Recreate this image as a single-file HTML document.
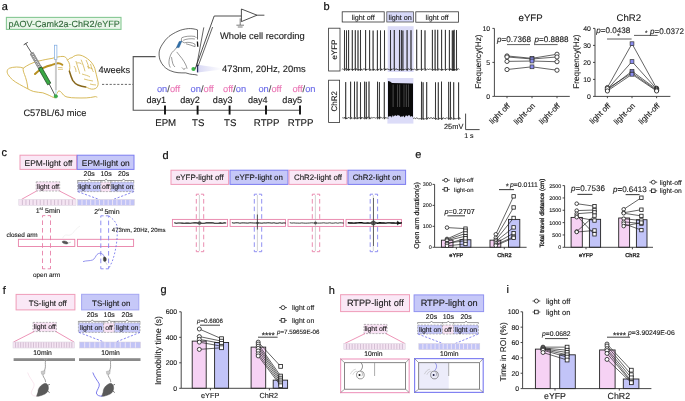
<!DOCTYPE html>
<html><head><meta charset="utf-8"><style>
html,body{margin:0;padding:0;background:#fff;}
svg{display:block;font-family:"Liberation Sans", sans-serif;will-change:transform;}
text{stroke:#1a1a1a;stroke-width:0.12px;text-rendering:geometricPrecision;}
</style></head><body>
<svg width="685" height="401" viewBox="0 0 685 401">
<rect width="685" height="401" fill="#fff"/>
<text x="1.8" y="9.8" font-size="11" fill="#111" stroke="#111" style="stroke-width:0.2px">a</text>
<rect x="6.40" y="17.40" width="114.60" height="12.00" fill="#eaf6ea" stroke="#86c893" stroke-width="1.1" />
<text x="8.60" y="26.60" font-size="9.0" text-anchor="start" fill="#3a8646" stroke="none" >pAOV-Camk2a-ChR2/eYFP</text>
<path d="M23.3,68.1 C20,66.5 13,66.8 9.5,68.2 C6.5,69.5 6.8,72.5 8,74.5 C10,78 14,81.5 19.4,84.3 C22,85.8 25,87.5 27.9,88.9 C27.5,84 26,78 24.5,74.5 C23.5,72 22.8,70 23.3,68.1 Z" fill="none" stroke="#d2b24a" stroke-width="0.9" />
<path d="M23.3,68.1 C27,65.5 32,62.5 38.9,61 C44,59.8 48,59 52,58.4 C56,57.2 60,56.4 63,56.4 C65,56.6 66.5,57.4 67.5,60.3 C69.5,62.5 70.5,66 69.4,71.3" fill="none" stroke="#d2b24a" stroke-width="0.9" />
<path d="M67.5,60.3 C69,58.5 70.5,57.8 72,57.7 C74,55.5 77.5,54.6 80,55.1 C83,55.6 87,58 90.2,61 C92.5,63.5 94,66 94.8,68.5 C96,72 96.6,76.5 97.6,80 C98.6,83 98.4,86 96.5,87.8 C95,89.2 92,89.6 89.5,88.6 C88,88 86.5,87.2 85.6,86.9" fill="none" stroke="#d2b24a" stroke-width="0.9" />
<path d="M75.9,61 C77,65 78.5,69 79.8,73.9 M81.1,59.7 C82.5,63 84,67 85,71.3 M86,60 C87.5,63 88.5,66 89,69 M90.5,64 C91.5,67 92,70 93.5,72 M77,63 C79,62.5 81,63 82,64.5 M82,74 C85,75 88,75.5 90,77 M84,79 C87,80 90,80.5 93,81 M90,84 C92,84.5 94,85 96,85 M74,66 C75.5,68 76,70 76,72 M87,66.5 C89,67.5 91,68 92.5,69" fill="none" stroke="#d2b24a" stroke-width="0.75" />
<path d="M27.9,88.9 C30,90 31.5,91 33.7,91.5 C37,92.2 40,92.5 42.8,92.8 C45,93.5 47,94.5 49.2,95.4 C51,96.3 52.5,97 53.5,97.5 C54.5,98 55.5,97.5 55.8,96.5 C56.5,94 57.5,91.5 59,90.8 C60,91 61,92 61.7,92.7 C62.3,93.5 63,94.5 63.5,95 C64.5,96 65.5,96.6 67,97 C70,97.7 73,97.9 75.9,97.9 C79,98 83,98 86.3,97.9 C89,97.8 92,97.3 95.4,96.6 C96,96.7 96.8,97 97.3,97.2" fill="none" stroke="#d2b24a" stroke-width="0.9" />
<path d="M35,74 C37,72 39.5,70 42.8,68.1 C46,66.5 49,65.5 51.8,64.9 C54,64.2 56,63.5 57.8,63.3 C59.5,63.2 61,63.8 62.3,64.8" fill="none" stroke="#b89020" stroke-width="2.0" stroke-linecap="round"/>
<path d="M57.8,67.6 L62.5,67.4 M58,69.4 L63,69.2" fill="none" stroke="#d2b24a" stroke-width="0.7" />
<path d="M69.4,71.3 C70.5,75 71.5,78 72.7,80.4 C74.5,83 76,84.5 77.9,85 C80.5,86 83,86.6 85.6,86.9" fill="none" stroke="#86661a" stroke-width="1.5" stroke-linecap="round"/>
<line x1="25.70" y1="43.60" x2="31.70" y2="53.20" stroke="#333" stroke-width="0.8" />
<line x1="49.20" y1="84.00" x2="55.40" y2="96.00" stroke="#333" stroke-width="0.8" />
<line x1="23.70" y1="44.80" x2="27.70" y2="42.40" stroke="#333" stroke-width="0.9" />
<g transform="translate(31.7,53.2) rotate(60.4)"><rect x="0" y="-1.7" width="16.8" height="3.4" fill="#fff" stroke="#666" stroke-width="0.5"/><line x1="0.0" y1="-1.7" x2="1.6" y2="1.7" stroke="#333" stroke-width="0.4"/><line x1="1.6" y1="-1.7" x2="0.0" y2="1.7" stroke="#333" stroke-width="0.4"/><line x1="1.9" y1="-1.7" x2="3.5" y2="1.7" stroke="#333" stroke-width="0.4"/><line x1="3.5" y1="-1.7" x2="1.9" y2="1.7" stroke="#333" stroke-width="0.4"/><line x1="3.8" y1="-1.7" x2="5.4" y2="1.7" stroke="#333" stroke-width="0.4"/><line x1="5.4" y1="-1.7" x2="3.8" y2="1.7" stroke="#333" stroke-width="0.4"/><line x1="5.7" y1="-1.7" x2="7.3" y2="1.7" stroke="#333" stroke-width="0.4"/><line x1="7.3" y1="-1.7" x2="5.7" y2="1.7" stroke="#333" stroke-width="0.4"/><line x1="7.6" y1="-1.7" x2="9.2" y2="1.7" stroke="#333" stroke-width="0.4"/><line x1="9.2" y1="-1.7" x2="7.6" y2="1.7" stroke="#333" stroke-width="0.4"/><line x1="9.5" y1="-1.7" x2="11.1" y2="1.7" stroke="#333" stroke-width="0.4"/><line x1="11.1" y1="-1.7" x2="9.5" y2="1.7" stroke="#333" stroke-width="0.4"/><line x1="11.4" y1="-1.7" x2="13.0" y2="1.7" stroke="#333" stroke-width="0.4"/><line x1="13.0" y1="-1.7" x2="11.4" y2="1.7" stroke="#333" stroke-width="0.4"/><line x1="13.3" y1="-1.7" x2="14.9" y2="1.7" stroke="#333" stroke-width="0.4"/><line x1="14.9" y1="-1.7" x2="13.3" y2="1.7" stroke="#333" stroke-width="0.4"/><line x1="15.2" y1="-1.7" x2="16.8" y2="1.7" stroke="#333" stroke-width="0.4"/><line x1="16.8" y1="-1.7" x2="15.2" y2="1.7" stroke="#333" stroke-width="0.4"/><rect x="16.8" y="-1.8" width="18.6" height="3.6" fill="#3aa844" stroke="#1c4a20" stroke-width="0.7"/></g>
<rect x="54.40" y="45.20" width="2.50" height="14.40" fill="#fff" stroke="#7aa8e0" stroke-width="0.7" />
<rect x="55.10" y="59.60" width="1.60" height="30.60" fill="#cfcfcf" stroke="#b4b4b4" stroke-width="0.3" />
<rect x="55.10" y="90.20" width="1.60" height="4.60" fill="#cdeaf6" stroke="none" stroke-width="1" />
<circle cx="55.80" cy="96.30" r="1.8" fill="#38b048" stroke="#2a8a36" stroke-width="0.4"/>
<text x="98.60" y="72.60" font-size="9.3" text-anchor="start" fill="#1a1a1a" stroke="#1a1a1a" >4weeks</text>
<text x="23.40" y="116.20" font-size="9.3" text-anchor="start" fill="#1a1a1a" stroke="#1a1a1a" >C57BL/6J mice</text>
<line x1="102.00" y1="84.40" x2="133.00" y2="84.40" stroke="#444" stroke-width="0.8" stroke-dasharray="2.2,1.6"/>
<path d="M155.6,56.6 H133.2 V110.2 H300" fill="none" stroke="#555" stroke-width="1.1" />
<path d="M197.5,29.9 C194.5,28.9 191.5,28.4 188.4,28.6 C184.5,29 181,29.8 178,31.2 C174.5,32.8 171.5,34.5 169,36.4 C166.5,38.6 164.2,41.2 162.5,44.1 C160.6,47 159.5,49.5 159.2,51.9 C158.9,54.6 159.2,57.2 159.9,59.7 C160.8,62.2 162.2,64.4 163.8,66.2 C165.8,68.3 168,69.7 170.3,70.7 C172.8,71.8 175.3,72.4 178,72.7 C180.6,72.9 183.2,72.9 185.8,72.9 C187.2,73.3 188.4,73.7 189.7,74 C191.5,74.4 193.2,74.6 194.9,74.6 C195.8,74.8 196.6,75 197.5,75.2" fill="none" stroke="#222" stroke-width="0.7" />
<line x1="197.50" y1="29.90" x2="197.50" y2="39.50" stroke="#222" stroke-width="0.7" />
<line x1="197.40" y1="41.50" x2="197.80" y2="46.80" stroke="#111" stroke-width="1.3" />
<path d="M181.9,37.7 C185,36.2 190,35.8 194.9,36.4 M183.2,40.3 C186.5,38.8 191,38.4 194.9,39 M184.5,42.8 C188,41.8 192,42.5 194.9,44.1 M181.9,37.7 C181,39 181.2,41 182.5,42 L184.5,42.8 M194.9,36.4 L196.5,38 M194.9,44.1 L195.2,46.7 M186,43.8 C189,44.5 192,45.5 194.9,46.7" fill="none" stroke="#333" stroke-width="0.5" />
<path d="M175.4,49.3 C172.5,51.5 171,53.5 170.3,55.8 C169.3,58.5 168.8,61 169,63.6 C169.2,65 169.6,66.3 170.3,67.5 M176.7,51.9 C178.5,54 180,56.2 181.9,58.4 C183.3,60.5 184.8,62.6 185.8,64.9 C186.4,66.2 186.8,67.5 187.1,68.8 M171.5,57.1 C171.8,59.3 172.2,61.5 172.8,63.6 C173.4,65.2 174,66.2 175,67 M181.9,67.5 C182.5,68.3 183.2,69 183.9,69.4 C184.8,69 185.4,68.4 185.8,67.8 M178,46 C177,47 176,48 175.4,49.3" fill="none" stroke="#333" stroke-width="0.5" />
<path d="M176.4,47.6 L179.2,41.5 L181.9,41.1 L179.1,47.6 Z" fill="#2f6fa8" stroke="#24568a" stroke-width="0.4" />
<defs><linearGradient id="cone" x1="0" x2="1" y1="0" y2="0"><stop offset="0" stop-color="#d8d8f4"/><stop offset="1" stop-color="#ffffff"/></linearGradient></defs>
<path d="M197.6,64.8 L222,68.2 L222,69.6 L197.6,72.4 Z" fill="url(#cone)" stroke="none" stroke-width="1" />
<rect x="196.90" y="64.80" width="1.30" height="7.60" fill="#2a2a60" stroke="none" stroke-width="1" />
<circle cx="193.50" cy="69.00" r="2.1" fill="#3cb54a" stroke="none" stroke-width="0"/>
<line x1="195.20" y1="68.80" x2="214.20" y2="16.00" stroke="#222" stroke-width="0.8" />
<line x1="196.50" y1="66.50" x2="203.80" y2="27.40" stroke="#222" stroke-width="0.7" />
<line x1="198.20" y1="66.00" x2="212.60" y2="27.00" stroke="#222" stroke-width="0.7" />
<line x1="214.20" y1="16.00" x2="241.40" y2="16.00" stroke="#222" stroke-width="0.8" />
<path d="M241.4,9 L257,15.2 L241.4,21.6 Z" fill="#fff" stroke="#222" stroke-width="0.8" />
<line x1="257.00" y1="15.20" x2="264.40" y2="15.20" stroke="#222" stroke-width="0.8" />
<line x1="240.20" y1="18.40" x2="240.20" y2="25.00" stroke="#444" stroke-width="0.7" />
<line x1="236.40" y1="25.20" x2="244.00" y2="25.20" stroke="#444" stroke-width="0.7" />
<line x1="237.80" y1="27.00" x2="242.60" y2="27.00" stroke="#444" stroke-width="0.7" />
<text x="220.00" y="39.00" font-size="9.35" text-anchor="start" fill="#1a1a1a" stroke="#1a1a1a" >Whole cell recording</text>
<text x="222.00" y="71.60" font-size="9.35" text-anchor="start" fill="#1a1a1a" stroke="#1a1a1a" >473nm, 20Hz, 20ms</text>
<line x1="165.00" y1="105.60" x2="165.00" y2="114.60" stroke="#111" stroke-width="1.9" />
<text x="156.30" y="103.30" font-size="9.1" text-anchor="middle" fill="#1a1a1a" stroke="#1a1a1a" >day1</text>
<text x="165.70" y="125.70" font-size="9.7" text-anchor="middle" fill="#1a1a1a" stroke="#1a1a1a" >EPM</text>
<text x="168.50" y="91.80" font-size="9.3" text-anchor="middle" fill="#1a1a1a" stroke="#1a1a1a" ><tspan fill="#6a6ae8" stroke="#6a6ae8">on</tspan><tspan fill="#444" stroke="#444">/</tspan><tspan fill="#ea74b4" stroke="#ea74b4">off</tspan></text>
<line x1="197.60" y1="105.60" x2="197.60" y2="114.60" stroke="#111" stroke-width="1.9" />
<text x="190.00" y="103.30" font-size="9.1" text-anchor="middle" fill="#1a1a1a" stroke="#1a1a1a" >day2</text>
<text x="198.30" y="125.70" font-size="9.7" text-anchor="middle" fill="#1a1a1a" stroke="#1a1a1a" >TS</text>
<text x="202.10" y="91.80" font-size="9.3" text-anchor="middle" fill="#1a1a1a" stroke="#1a1a1a" ><tspan fill="#6a6ae8" stroke="#6a6ae8">on</tspan><tspan fill="#444" stroke="#444">/</tspan><tspan fill="#ea74b4" stroke="#ea74b4">off</tspan></text>
<line x1="229.60" y1="105.60" x2="229.60" y2="114.60" stroke="#111" stroke-width="1.9" />
<text x="222.70" y="103.30" font-size="9.1" text-anchor="middle" fill="#1a1a1a" stroke="#1a1a1a" >day3</text>
<text x="230.30" y="125.70" font-size="9.7" text-anchor="middle" fill="#1a1a1a" stroke="#1a1a1a" >TS</text>
<text x="234.60" y="91.80" font-size="9.3" text-anchor="middle" fill="#1a1a1a" stroke="#1a1a1a" ><tspan fill="#ea74b4" stroke="#ea74b4">off</tspan><tspan fill="#444" stroke="#444">/</tspan><tspan fill="#6a6ae8" stroke="#6a6ae8">on</tspan></text>
<line x1="266.00" y1="105.60" x2="266.00" y2="114.60" stroke="#111" stroke-width="1.9" />
<text x="257.80" y="103.30" font-size="9.1" text-anchor="middle" fill="#1a1a1a" stroke="#1a1a1a" >day4</text>
<text x="266.70" y="125.70" font-size="9.7" text-anchor="middle" fill="#1a1a1a" stroke="#1a1a1a" >RTPP</text>
<text x="270.00" y="91.80" font-size="9.3" text-anchor="middle" fill="#1a1a1a" stroke="#1a1a1a" ><tspan fill="#6a6ae8" stroke="#6a6ae8">on</tspan><tspan fill="#444" stroke="#444">/</tspan><tspan fill="#ea74b4" stroke="#ea74b4">off</tspan></text>
<line x1="300.00" y1="105.60" x2="300.00" y2="114.60" stroke="#111" stroke-width="1.9" />
<text x="292.20" y="103.30" font-size="9.1" text-anchor="middle" fill="#1a1a1a" stroke="#1a1a1a" >day5</text>
<text x="300.70" y="125.70" font-size="9.7" text-anchor="middle" fill="#1a1a1a" stroke="#1a1a1a" >RTPP</text>
<text x="304.00" y="91.80" font-size="9.3" text-anchor="middle" fill="#1a1a1a" stroke="#1a1a1a" ><tspan fill="#ea74b4" stroke="#ea74b4">off</tspan><tspan fill="#444" stroke="#444">/</tspan><tspan fill="#6a6ae8" stroke="#6a6ae8">on</tspan></text>
<text x="323.6" y="10.4" font-size="11" fill="#111" stroke="#111" style="stroke-width:0.2px">b</text>
<rect x="342.20" y="11.80" width="42.00" height="10.20" fill="#fff" stroke="#333" stroke-width="0.8" />
<rect x="386.80" y="11.80" width="26.80" height="10.20" fill="#d6d8f8" stroke="#555" stroke-width="0.8" />
<rect x="415.80" y="11.80" width="42.60" height="10.40" fill="#fff" stroke="#333" stroke-width="0.8" />
<text x="363.20" y="19.60" font-size="7.2" text-anchor="middle" fill="#1a1a1a" stroke="#1a1a1a" >light off</text>
<text x="400.20" y="19.60" font-size="7.2" text-anchor="middle" fill="#1a1a1a" stroke="#1a1a1a" >light on</text>
<text x="437.10" y="19.60" font-size="7.2" text-anchor="middle" fill="#1a1a1a" stroke="#1a1a1a" >light off</text>
<rect x="387.70" y="26.20" width="25.90" height="45.80" fill="#dcdcf8" stroke="none" stroke-width="1" />
<rect x="387.40" y="78.00" width="26.00" height="45.60" fill="#dcdcf8" stroke="none" stroke-width="1" />
<rect x="328.60" y="28.20" width="11.40" height="42.80" fill="#fff" stroke="#333" stroke-width="0.8" />
<rect x="328.60" y="80.20" width="11.00" height="42.20" fill="#fff" stroke="#333" stroke-width="0.8" />
<text transform="translate(337.2,49.6) rotate(-90)" font-size="8" text-anchor="middle" fill="#1a1a1a">eYFP</text>
<text transform="translate(337.0,101.3) rotate(-90)" font-size="8" text-anchor="middle" fill="#1a1a1a">ChR2</text>
<path d="M341.80,69.40 L342.50,68.98 L343.20,69.47 L343.90,69.19 L344.42,68.50 L344.50,30.20 L344.58,70.70 L345.40,69.20 L344.60,69.60 L345.30,68.70 L346.00,68.62 L346.42,68.50 L346.50,30.44 L346.58,70.70 L347.40,69.20 L346.70,69.01 L347.40,68.97 L348.10,70.19 L348.52,68.50 L348.60,30.07 L348.68,70.70 L349.50,69.20 L348.80,69.94 L349.50,69.36 L350.20,69.62 L350.90,68.84 L351.60,69.62 L352.30,69.99 L352.22,68.50 L352.30,30.12 L352.38,70.70 L353.20,69.20 L353.00,69.79 L353.70,69.67 L354.40,68.70 L355.10,69.81 L355.22,68.50 L355.30,30.19 L355.38,70.70 L356.20,69.20 L355.80,69.08 L356.50,68.65 L357.20,69.98 L357.90,69.36 L357.92,68.50 L358.00,30.32 L358.08,70.70 L358.90,69.20 L358.60,70.01 L359.30,69.74 L360.00,70.07 L360.42,68.50 L360.50,29.99 L360.58,70.70 L361.40,69.20 L360.70,69.88 L361.40,69.31 L362.10,70.10 L362.80,70.01 L363.50,68.76 L364.20,68.82 L364.90,68.95 L365.60,70.14 L365.52,68.50 L365.60,30.04 L365.68,70.70 L366.50,69.20 L366.30,69.60 L367.00,69.08 L367.70,69.41 L368.40,69.22 L369.10,69.16 L369.52,68.50 L369.60,30.19 L369.68,70.70 L370.50,69.20 L369.80,69.53 L370.50,70.05 L371.20,69.69 L371.90,70.09 L372.60,69.97 L373.02,68.50 L373.10,30.59 L373.18,70.70 L374.00,69.20 L373.30,69.67 L374.00,68.86 L374.70,69.98 L375.40,70.14 L376.10,70.05 L376.80,69.51 L377.32,68.50 L377.40,30.31 L377.48,70.70 L378.30,69.20 L377.50,68.94 L378.20,69.93 L378.90,69.52 L379.60,69.06 L380.30,68.70 L380.42,68.50 L380.50,30.45 L380.58,70.70 L381.40,69.20 L381.00,70.18 L381.70,68.74 L382.40,69.88 L383.10,69.26 L383.80,68.84 L384.50,69.07 L384.42,68.50 L384.50,30.37 L384.58,70.70 L385.40,69.20 L385.20,70.00 L385.90,68.67 L386.60,69.58 L387.30,68.67 L388.00,69.75 L388.70,69.13 L389.40,70.01 L390.10,70.17 L390.42,68.50 L390.50,30.11 L390.58,70.70 L391.40,69.20 L390.80,70.20 L391.50,69.10 L392.20,68.72 L392.90,69.56 L393.60,68.65 L394.30,68.92 L394.22,68.50 L394.30,30.01 L394.38,70.70 L395.20,69.20 L395.00,69.58 L395.70,68.85 L396.40,68.67 L397.10,69.99 L397.80,69.10 L398.50,70.13 L399.20,70.03 L399.42,68.50 L399.50,29.98 L399.58,70.70 L400.40,69.20 L399.90,69.34 L400.60,69.43 L401.30,69.63 L401.32,68.50 L401.40,30.20 L401.48,70.70 L402.30,69.20 L402.00,69.49 L402.70,69.59 L402.82,68.50 L402.90,30.54 L402.98,70.70 L403.80,69.20 L403.40,69.41 L404.10,69.29 L404.80,69.75 L405.50,68.98 L406.20,69.08 L406.90,70.16 L407.02,68.50 L407.10,30.12 L407.18,70.70 L408.00,69.20 L407.60,69.48 L408.30,68.62 L409.00,69.26 L409.70,69.53 L410.40,68.63 L410.92,68.50 L411.00,30.22 L411.08,70.70 L411.90,69.20 L411.10,69.61 L411.80,68.70 L412.50,69.60 L413.20,69.35 L413.90,69.69 L414.60,69.16 L415.30,69.73 L416.00,69.78 L416.70,68.64 L416.62,68.50 L416.70,29.66 L416.78,70.70 L417.60,69.20 L417.40,69.68 L418.10,70.14 L418.80,69.00 L419.50,69.33 L420.20,69.55 L420.90,69.11 L421.32,68.50 L421.40,29.96 L421.48,70.70 L422.30,69.20 L421.60,69.10 L422.30,69.19 L423.00,69.55 L423.70,69.08 L424.40,69.20 L424.92,68.50 L425.00,30.37 L425.08,70.70 L425.90,69.20 L425.10,68.64 L425.80,69.51 L426.50,69.78 L427.20,69.10 L427.90,68.96 L428.60,69.89 L429.30,68.98 L430.00,68.90 L430.70,69.30 L431.40,69.72 L432.10,68.76 L432.32,68.50 L432.40,29.92 L432.48,70.70 L433.30,69.20 L432.80,69.13 L433.50,69.93 L434.20,69.30 L434.90,69.97 L435.02,68.50 L435.10,29.77 L435.18,70.70 L436.00,69.20 L435.60,69.14 L436.30,69.64 L437.00,70.02 L437.70,69.32 L437.62,68.50 L437.70,29.83 L437.78,70.70 L438.60,69.20 L438.40,68.79 L439.10,69.45 L439.80,68.91 L440.50,69.89 L441.20,69.94 L441.52,68.50 L441.60,29.78 L441.68,70.70 L442.50,69.20 L441.90,69.05 L442.60,69.89 L443.30,69.63 L444.00,69.89 L444.70,69.15 L445.40,68.81 L445.32,68.50 L445.40,29.89 L445.48,70.70 L446.30,69.20 L446.10,69.87 L446.80,69.03 L447.50,69.15 L448.20,69.27 L448.90,69.27 L449.32,68.50 L449.40,30.01 L449.48,70.70 L450.30,69.20 L449.60,70.07 L450.30,68.85 L451.00,68.61 L451.70,70.11 L452.22,68.50 L452.30,30.48 L452.38,70.70 L453.20,69.20 L452.40,70.18 L453.10,69.29 L453.22,68.50 L453.30,30.55 L453.38,70.70 L454.20,69.20 L453.80,70.08 L454.12,68.50 L454.20,29.82 L454.28,70.70 L455.10,69.20 L454.50,69.79 L455.20,69.94 L455.90,69.66 L456.42,68.50 L456.50,30.12 L456.58,70.70 L457.40,69.20 L456.60,69.06 L457.30,69.15 L458.00,68.96 L458.70,68.71 L459.40,69.54" fill="none" stroke="#111" stroke-width="0.62" stroke-linejoin="round"/>
<path d="M342.40,117.90 L343.10,117.56 L343.80,118.40 L344.50,117.17 L345.20,118.55 L345.62,117.00 L345.70,82.09 L345.78,119.20 L346.60,117.70 L345.90,118.58 L346.60,118.53 L347.30,118.54 L348.00,118.02 L348.70,117.12 L349.40,118.29 L350.10,117.37 L350.52,117.00 L350.60,81.70 L350.68,119.20 L351.50,117.70 L350.80,118.16 L351.50,117.94 L352.20,117.76 L352.90,118.60 L353.60,118.08 L354.30,117.65 L354.42,117.00 L354.50,81.65 L354.58,119.20 L355.40,117.70 L355.00,118.48 L355.70,117.86 L356.40,118.35 L357.10,117.66 L357.02,117.00 L357.10,81.60 L357.18,119.20 L358.00,117.70 L357.80,117.96 L358.50,118.41 L359.20,117.37 L359.90,118.37 L360.42,117.00 L360.50,82.32 L360.58,119.20 L361.40,117.70 L360.60,118.39 L361.30,118.42 L362.00,117.11 L362.70,118.11 L363.40,118.48 L364.10,117.18 L364.52,117.00 L364.60,81.67 L364.68,119.20 L365.50,117.70 L364.80,117.53 L365.50,117.94 L366.20,117.78 L366.22,117.00 L366.30,81.87 L366.38,119.20 L367.20,117.70 L366.90,118.34 L367.60,117.10 L368.30,117.19 L369.00,117.30 L368.92,117.00 L369.00,81.52 L369.08,119.20 L369.90,117.70 L369.70,117.21 L370.40,118.66 L371.10,118.47 L371.80,117.24 L372.50,117.90 L373.20,117.61 L373.90,117.60 L374.60,117.66 L375.30,118.14 L376.00,118.04 L376.70,117.68 L377.40,117.41 L377.42,117.00 L377.50,81.73 L377.58,119.20 L378.40,117.70 L378.10,117.30 L378.80,117.99 L379.32,117.00 L379.40,82.12 L379.48,119.20 L380.30,117.70 L379.50,117.71 L380.20,117.23 L380.90,117.39 L381.60,117.70 L382.30,118.07 L383.00,118.35 L383.70,117.71 L384.22,117.00 L384.30,82.20 L384.38,119.20 L385.20,117.70 L384.40,118.10 L385.10,117.79 L385.80,117.70 L386.50,117.89 L387.20,118.22 L387.90,117.77 L388.60,118.21" fill="none" stroke="#111" stroke-width="0.62" stroke-linejoin="round"/>
<path d="M413.00,118.40 L413.70,118.34 L414.40,117.99 L415.10,118.46 L415.80,118.71 L416.50,117.71 L417.20,118.28 L417.90,118.28 L418.60,119.01 L419.30,119.10 L420.00,118.20 L420.70,119.04 L421.40,118.87 L421.42,117.50 L421.50,81.76 L421.58,119.70 L422.40,118.20 L422.10,118.34 L422.80,117.80 L423.02,117.50 L423.10,82.31 L423.18,119.70 L424.00,118.20 L423.50,118.66 L424.20,119.02 L424.90,118.87 L425.60,118.67 L426.30,118.77 L426.62,117.50 L426.70,82.06 L426.78,119.70 L427.60,118.20 L427.00,117.77 L427.70,118.54 L428.40,117.61 L429.10,117.83 L429.80,118.84 L430.50,117.67 L431.20,117.75 L431.90,117.76 L432.60,119.01 L433.30,117.89 L434.00,117.64 L434.70,118.95 L435.40,117.79 L435.42,117.50 L435.50,82.34 L435.58,119.70 L436.40,118.20 L436.10,118.68 L436.80,118.94 L437.50,119.12 L438.20,118.53 L438.22,117.50 L438.30,82.30 L438.38,119.70 L439.20,118.20 L438.90,117.66 L439.60,118.83 L440.30,118.42 L441.00,118.74 L441.42,117.50 L441.50,81.61 L441.58,119.70 L442.40,118.20 L441.70,118.80 L442.40,119.10 L443.10,117.70 L443.80,118.12 L444.50,118.50 L445.20,118.92 L445.90,117.99 L446.60,117.89 L447.30,118.00 L448.00,118.59 L448.70,118.81 L448.62,117.50 L448.70,81.89 L448.78,119.70 L449.60,118.20 L449.40,118.19 L450.10,118.23 L450.42,117.50 L450.50,81.85 L450.58,119.70 L451.40,118.20 L450.80,118.27 L451.50,117.73 L452.20,118.40 L452.90,119.16 L453.60,118.26 L453.62,117.50 L453.70,82.25 L453.78,119.70 L454.60,118.20 L454.30,117.86 L455.00,118.71 L455.70,118.81 L456.40,118.68 L457.10,118.43 L457.80,118.37 L458.50,118.63 L458.52,117.50 L458.60,82.40 L458.68,119.70 L459.50,118.20 L459.20,117.84 L459.90,117.75 L460.60,118.80" fill="none" stroke="#111" stroke-width="0.62" stroke-linejoin="round"/>
<path d="M388,81.0 L390,81.6 L392,83.0 L413,83.6 L413,116 L413.0,117.4 L412.2,116.3 L411.4,116.0 L410.6,116.9 L409.8,115.3 L409.0,115.5 L408.2,115.3 L407.4,116.5 L406.6,115.6 L405.8,115.4 L405.0,116.8 L404.2,117.6 L403.4,115.6 L402.6,116.8 L401.8,115.9 L401.0,117.3 L400.2,116.5 L399.4,115.5 L398.6,115.4 L397.8,114.8 L397.0,116.1 L396.2,115.8 L395.4,115.2 L394.6,115.8 L393.8,115.7 L393.0,117.0 L392.2,115.1 L391.4,117.7 L390.6,116.1 L389.8,116.5 L389.0,116.1 L388.2,117.2 L388,117 Z" fill="#0a0a0a" stroke="none" stroke-width="0" />
<line x1="393.10" y1="84.50" x2="393.10" y2="107.00" stroke="#777" stroke-width="0.6" />
<line x1="397.50" y1="84.50" x2="397.50" y2="107.00" stroke="#666" stroke-width="0.6" />
<line x1="399.70" y1="84.50" x2="399.70" y2="107.00" stroke="#777" stroke-width="0.6" />
<line x1="404.00" y1="84.50" x2="404.00" y2="107.00" stroke="#666" stroke-width="0.6" />
<line x1="406.30" y1="84.50" x2="406.30" y2="107.00" stroke="#777" stroke-width="0.6" />
<line x1="408.50" y1="84.50" x2="408.50" y2="107.00" stroke="#666" stroke-width="0.6" />
<path d="M465.6,113.6 V129.6 H479.6" fill="none" stroke="#333" stroke-width="0.9" />
<text x="444.00" y="128.60" font-size="7.4" text-anchor="start" fill="#1a1a1a" stroke="#1a1a1a" >25mV</text>
<text x="464.20" y="137.80" font-size="7.0" text-anchor="start" fill="#1a1a1a" stroke="#1a1a1a" >1 s</text>
<line x1="494.40" y1="28.40" x2="494.40" y2="96.40" stroke="#333" stroke-width="0.9" />
<line x1="494.40" y1="96.40" x2="569.80" y2="96.40" stroke="#333" stroke-width="0.9" />
<line x1="492.40" y1="96.40" x2="494.40" y2="96.40" stroke="#333" stroke-width="0.9" />
<text x="490.20" y="98.90" font-size="6.9" text-anchor="end" fill="#1a1a1a" stroke="#1a1a1a" >0</text>
<line x1="492.40" y1="62.40" x2="494.40" y2="62.40" stroke="#333" stroke-width="0.9" />
<text x="490.20" y="64.90" font-size="6.9" text-anchor="end" fill="#1a1a1a" stroke="#1a1a1a" >5</text>
<line x1="492.40" y1="28.40" x2="494.40" y2="28.40" stroke="#333" stroke-width="0.9" />
<text x="490.20" y="30.90" font-size="6.9" text-anchor="end" fill="#1a1a1a" stroke="#1a1a1a" >10</text>
<line x1="507.00" y1="96.40" x2="507.00" y2="98.20" stroke="#333" stroke-width="0.9" />
<line x1="532.00" y1="96.40" x2="532.00" y2="98.20" stroke="#333" stroke-width="0.9" />
<line x1="557.00" y1="96.40" x2="557.00" y2="98.20" stroke="#333" stroke-width="0.9" />
<text transform="translate(510.60,106.40) rotate(-45)" font-size="8.0" text-anchor="end" fill="#1a1a1a">light off</text>
<text transform="translate(535.60,106.40) rotate(-45)" font-size="8.0" text-anchor="end" fill="#1a1a1a">light-on</text>
<text transform="translate(560.60,106.40) rotate(-45)" font-size="8.0" text-anchor="end" fill="#1a1a1a">light-off</text>
<text x="530.60" y="21.00" font-size="9.6" text-anchor="middle" fill="#1a1a1a" stroke="#1a1a1a" >eYFP</text>
<text transform="translate(481.0,61.6) rotate(-90)" font-size="8.2" text-anchor="middle" fill="#1a1a1a">Frequency(Hz)</text>
<path d="M507,55.94 L532,58.32 L557,54.24" fill="none" stroke="#222" stroke-width="0.7" />
<path d="M507,56.96 L532,59.00 L557,56.96" fill="none" stroke="#222" stroke-width="0.7" />
<path d="M507,61.38 L532,61.04 L557,61.72" fill="none" stroke="#222" stroke-width="0.7" />
<path d="M507,69.54 L532,66.82 L557,70.22" fill="none" stroke="#222" stroke-width="0.7" />
<circle cx="507.00" cy="55.94" r="2.1" fill="#fff" stroke="#1a1a1a" stroke-width="0.8"/>
<circle cx="557.00" cy="54.24" r="2.1" fill="#fff" stroke="#1a1a1a" stroke-width="0.8"/>
<circle cx="507.00" cy="56.96" r="2.1" fill="#fff" stroke="#1a1a1a" stroke-width="0.8"/>
<circle cx="557.00" cy="56.96" r="2.1" fill="#fff" stroke="#1a1a1a" stroke-width="0.8"/>
<circle cx="507.00" cy="61.38" r="2.1" fill="#fff" stroke="#1a1a1a" stroke-width="0.8"/>
<circle cx="557.00" cy="61.72" r="2.1" fill="#fff" stroke="#1a1a1a" stroke-width="0.8"/>
<circle cx="507.00" cy="69.54" r="2.1" fill="#fff" stroke="#1a1a1a" stroke-width="0.8"/>
<circle cx="557.00" cy="70.22" r="2.1" fill="#fff" stroke="#1a1a1a" stroke-width="0.8"/>
<rect x="530.10" y="56.42" width="3.80" height="3.80" fill="#8a8cf0" stroke="#333" stroke-width="0.7" />
<rect x="530.10" y="57.10" width="3.80" height="3.80" fill="#8a8cf0" stroke="#333" stroke-width="0.7" />
<rect x="530.10" y="59.14" width="3.80" height="3.80" fill="#8a8cf0" stroke="#333" stroke-width="0.7" />
<rect x="530.10" y="64.92" width="3.80" height="3.80" fill="#8a8cf0" stroke="#333" stroke-width="0.7" />
<text x="497.00" y="42.00" font-size="8.1" text-anchor="start" fill="#1a1a1a" stroke="#1a1a1a" ><tspan font-style="italic">p</tspan>=0.7368</text>
<text x="534.40" y="42.00" font-size="8.1" text-anchor="start" fill="#1a1a1a" stroke="#1a1a1a" ><tspan font-style="italic">p</tspan>=0.8888</text>
<line x1="507.00" y1="44.60" x2="530.00" y2="44.60" stroke="#333" stroke-width="0.8" />
<line x1="534.00" y1="44.60" x2="557.60" y2="44.60" stroke="#333" stroke-width="0.8" />
<line x1="595.00" y1="28.40" x2="595.00" y2="96.40" stroke="#333" stroke-width="0.9" />
<line x1="595.00" y1="96.40" x2="670.40" y2="96.40" stroke="#333" stroke-width="0.9" />
<line x1="593.00" y1="96.40" x2="595.00" y2="96.40" stroke="#333" stroke-width="0.9" />
<text x="590.80" y="98.90" font-size="6.9" text-anchor="end" fill="#1a1a1a" stroke="#1a1a1a" >0</text>
<line x1="593.00" y1="79.40" x2="595.00" y2="79.40" stroke="#333" stroke-width="0.9" />
<text x="590.80" y="81.90" font-size="6.9" text-anchor="end" fill="#1a1a1a" stroke="#1a1a1a" >10</text>
<line x1="593.00" y1="62.40" x2="595.00" y2="62.40" stroke="#333" stroke-width="0.9" />
<text x="590.80" y="64.90" font-size="6.9" text-anchor="end" fill="#1a1a1a" stroke="#1a1a1a" >20</text>
<line x1="593.00" y1="45.40" x2="595.00" y2="45.40" stroke="#333" stroke-width="0.9" />
<text x="590.80" y="47.90" font-size="6.9" text-anchor="end" fill="#1a1a1a" stroke="#1a1a1a" >30</text>
<line x1="593.00" y1="28.40" x2="595.00" y2="28.40" stroke="#333" stroke-width="0.9" />
<text x="590.80" y="30.90" font-size="6.9" text-anchor="end" fill="#1a1a1a" stroke="#1a1a1a" >40</text>
<line x1="607.40" y1="96.40" x2="607.40" y2="98.20" stroke="#333" stroke-width="0.9" />
<line x1="632.00" y1="96.40" x2="632.00" y2="98.20" stroke="#333" stroke-width="0.9" />
<line x1="656.60" y1="96.40" x2="656.60" y2="98.20" stroke="#333" stroke-width="0.9" />
<text transform="translate(611.00,106.40) rotate(-45)" font-size="8.0" text-anchor="end" fill="#1a1a1a">light off</text>
<text transform="translate(635.60,106.40) rotate(-45)" font-size="8.0" text-anchor="end" fill="#1a1a1a">light-on</text>
<text transform="translate(660.20,106.40) rotate(-45)" font-size="8.0" text-anchor="end" fill="#1a1a1a">light-off</text>
<text x="628.80" y="21.00" font-size="9.6" text-anchor="middle" fill="#1a1a1a" stroke="#1a1a1a" >ChR2</text>
<text transform="translate(578.6,61.6) rotate(-90)" font-size="8.2" text-anchor="middle" fill="#1a1a1a">Frequency(Hz)</text>
<path d="M607.4,87.56 L632,43.70 L656.6,88.24" fill="none" stroke="#222" stroke-width="0.7" />
<path d="M607.4,89.26 L632,61.55 L656.6,88.92" fill="none" stroke="#222" stroke-width="0.7" />
<path d="M607.4,89.94 L632,71.24 L656.6,89.26" fill="none" stroke="#222" stroke-width="0.7" />
<path d="M607.4,88.58 L632,72.94 L656.6,90.28" fill="none" stroke="#222" stroke-width="0.7" />
<path d="M607.4,90.96 L632,74.30 L656.6,90.96" fill="none" stroke="#222" stroke-width="0.7" />
<circle cx="607.40" cy="87.56" r="2.1" fill="#fff" stroke="#1a1a1a" stroke-width="0.8"/>
<circle cx="656.60" cy="88.24" r="2.1" fill="#fff" stroke="#1a1a1a" stroke-width="0.8"/>
<circle cx="607.40" cy="89.26" r="2.1" fill="#fff" stroke="#1a1a1a" stroke-width="0.8"/>
<circle cx="656.60" cy="88.92" r="2.1" fill="#fff" stroke="#1a1a1a" stroke-width="0.8"/>
<circle cx="607.40" cy="89.94" r="2.1" fill="#fff" stroke="#1a1a1a" stroke-width="0.8"/>
<circle cx="656.60" cy="89.26" r="2.1" fill="#fff" stroke="#1a1a1a" stroke-width="0.8"/>
<circle cx="607.40" cy="88.58" r="2.1" fill="#fff" stroke="#1a1a1a" stroke-width="0.8"/>
<circle cx="656.60" cy="90.28" r="2.1" fill="#fff" stroke="#1a1a1a" stroke-width="0.8"/>
<circle cx="607.40" cy="90.96" r="2.1" fill="#fff" stroke="#1a1a1a" stroke-width="0.8"/>
<circle cx="656.60" cy="90.96" r="2.1" fill="#fff" stroke="#1a1a1a" stroke-width="0.8"/>
<rect x="630.10" y="41.80" width="3.80" height="3.80" fill="#8a8cf0" stroke="#333" stroke-width="0.7" />
<rect x="630.10" y="59.65" width="3.80" height="3.80" fill="#8a8cf0" stroke="#333" stroke-width="0.7" />
<rect x="630.10" y="69.34" width="3.80" height="3.80" fill="#8a8cf0" stroke="#333" stroke-width="0.7" />
<rect x="630.10" y="71.04" width="3.80" height="3.80" fill="#8a8cf0" stroke="#333" stroke-width="0.7" />
<rect x="630.10" y="72.40" width="3.80" height="3.80" fill="#8a8cf0" stroke="#333" stroke-width="0.7" />
<text x="596.20" y="33.00" font-size="8.1" text-anchor="start" fill="#1a1a1a" stroke="#1a1a1a" ><tspan font-style="italic">p</tspan>=0.0438</text>
<text x="650.00" y="34.00" font-size="8.1" text-anchor="start" fill="#1a1a1a" stroke="#1a1a1a" ><tspan font-style="italic">p</tspan>=0.0372</text>
<line x1="607.00" y1="39.00" x2="631.60" y2="39.00" stroke="#333" stroke-width="0.8" />
<line x1="634.00" y1="35.40" x2="657.60" y2="35.40" stroke="#333" stroke-width="0.8" />
<text x="618.60" y="38.20" font-size="6.5" text-anchor="middle" fill="#1a1a1a" stroke="#1a1a1a" >*</text>
<text x="646.20" y="34.60" font-size="6.5" text-anchor="middle" fill="#1a1a1a" stroke="#1a1a1a" >*</text>
<text x="1.6" y="156.3" font-size="11" fill="#111" stroke="#111" style="stroke-width:0.2px">c</text>
<rect x="20.00" y="155.20" width="56.60" height="14.20" fill="#fae8f6" stroke="#ef9cb8" stroke-width="1.0" />
<text x="48.50" y="165.70" font-size="8.4" text-anchor="middle" fill="#1a1a1a" stroke="#1a1a1a" >EPM-light off</text>
<rect x="77.20" y="155.20" width="56.80" height="14.20" fill="#c6c8f8" stroke="#7c7cf0" stroke-width="1.0" />
<text x="105.80" y="165.70" font-size="8.4" text-anchor="middle" fill="#1a1a1a" stroke="#1a1a1a" >EPM-light on</text>
<text x="89.20" y="175.90" font-size="7.0" text-anchor="middle" fill="#1a1a1a" stroke="#1a1a1a" >20s</text>
<text x="106.10" y="175.90" font-size="7.0" text-anchor="middle" fill="#1a1a1a" stroke="#1a1a1a" >10s</text>
<text x="123.60" y="175.90" font-size="7.0" text-anchor="middle" fill="#1a1a1a" stroke="#1a1a1a" >20s</text>
<path d="M77.6,181.7 V180.5 H88.0 L89.2,178.9 L90.4,180.5 H104.89999999999999 L106.1,178.9 L107.3,180.5 H122.39999999999999 L123.6,178.9 L124.8,180.5 H133.8 V181.7" fill="none" stroke="#555" stroke-width="0.6" />
<line x1="100.90" y1="180.50" x2="100.90" y2="181.70" stroke="#555" stroke-width="0.6" />
<line x1="110.80" y1="180.50" x2="110.80" y2="181.70" stroke="#555" stroke-width="0.6" />
<rect x="36.20" y="181.80" width="23.50" height="9.20" fill="#f8e2f4" stroke="#999" stroke-width="0.7" stroke-dasharray="2,1.2"/>
<text x="47.95" y="188.80" font-size="6.9" text-anchor="middle" fill="#1a1a1a" stroke="#1a1a1a" >light off</text>
<rect x="77.60" y="182.00" width="23.30" height="9.60" fill="#c6c8f8" stroke="#999" stroke-width="0.7" stroke-dasharray="2,1.2"/>
<rect x="100.90" y="182.00" width="9.90" height="9.60" fill="#f8e2f4" stroke="#999" stroke-width="0.7" stroke-dasharray="2,1.2"/>
<rect x="110.80" y="182.00" width="23.00" height="9.60" fill="#c6c8f8" stroke="#999" stroke-width="0.7" stroke-dasharray="2,1.2"/>
<text x="89.25" y="189.20" font-size="6.9" text-anchor="middle" fill="#1a1a1a" stroke="#1a1a1a" >light on</text>
<text x="105.85" y="189.20" font-size="6.9" text-anchor="middle" fill="#1a1a1a" stroke="#1a1a1a" >off</text>
<text x="122.30" y="189.20" font-size="6.9" text-anchor="middle" fill="#1a1a1a" stroke="#1a1a1a" >light on</text>
<line x1="36.60" y1="191.00" x2="21.50" y2="199.40" stroke="#e87aa6" stroke-width="0.8" />
<line x1="59.50" y1="191.00" x2="75.80" y2="199.40" stroke="#e87aa6" stroke-width="0.8" />
<line x1="77.80" y1="191.60" x2="99.50" y2="199.60" stroke="#6a6aee" stroke-width="0.8" stroke-dasharray="2.2,1.6"/>
<line x1="133.80" y1="191.60" x2="113.00" y2="199.60" stroke="#6a6aee" stroke-width="0.8" stroke-dasharray="2.2,1.6"/>
<rect x="18.80" y="199.50" width="57.20" height="5.80" fill="#f5e5f3" stroke="#d8d0dc" stroke-width="0.5" />
<line x1="22.38" y1="199.80" x2="22.38" y2="205.00" stroke="#cfbacf" stroke-width="0.9" />
<line x1="25.95" y1="199.80" x2="25.95" y2="205.00" stroke="#cfbacf" stroke-width="0.9" />
<line x1="29.53" y1="199.80" x2="29.53" y2="205.00" stroke="#cfbacf" stroke-width="0.9" />
<line x1="33.10" y1="199.80" x2="33.10" y2="205.00" stroke="#cfbacf" stroke-width="0.9" />
<line x1="36.67" y1="199.80" x2="36.67" y2="205.00" stroke="#cfbacf" stroke-width="0.9" />
<line x1="40.25" y1="199.80" x2="40.25" y2="205.00" stroke="#cfbacf" stroke-width="0.9" />
<line x1="43.83" y1="199.80" x2="43.83" y2="205.00" stroke="#cfbacf" stroke-width="0.9" />
<line x1="47.40" y1="199.80" x2="47.40" y2="205.00" stroke="#cfbacf" stroke-width="0.9" />
<line x1="50.98" y1="199.80" x2="50.98" y2="205.00" stroke="#cfbacf" stroke-width="0.9" />
<line x1="54.55" y1="199.80" x2="54.55" y2="205.00" stroke="#cfbacf" stroke-width="0.9" />
<line x1="58.12" y1="199.80" x2="58.12" y2="205.00" stroke="#cfbacf" stroke-width="0.9" />
<line x1="61.70" y1="199.80" x2="61.70" y2="205.00" stroke="#cfbacf" stroke-width="0.9" />
<line x1="65.28" y1="199.80" x2="65.28" y2="205.00" stroke="#cfbacf" stroke-width="0.9" />
<line x1="68.85" y1="199.80" x2="68.85" y2="205.00" stroke="#cfbacf" stroke-width="0.9" />
<line x1="72.42" y1="199.80" x2="72.42" y2="205.00" stroke="#cfbacf" stroke-width="0.9" />
<rect x="77.60" y="199.50" width="56.80" height="5.80" fill="#c2c4f6" stroke="#d8d0dc" stroke-width="0.5" />
<line x1="81.97" y1="199.80" x2="81.97" y2="205.00" stroke="#f2e8f6" stroke-width="0.9" />
<line x1="86.34" y1="199.80" x2="86.34" y2="205.00" stroke="#f2e8f6" stroke-width="0.9" />
<line x1="90.71" y1="199.80" x2="90.71" y2="205.00" stroke="#f2e8f6" stroke-width="0.9" />
<line x1="95.08" y1="199.80" x2="95.08" y2="205.00" stroke="#f2e8f6" stroke-width="0.9" />
<line x1="99.45" y1="199.80" x2="99.45" y2="205.00" stroke="#f2e8f6" stroke-width="0.9" />
<line x1="103.82" y1="199.80" x2="103.82" y2="205.00" stroke="#f2e8f6" stroke-width="0.9" />
<line x1="108.18" y1="199.80" x2="108.18" y2="205.00" stroke="#f2e8f6" stroke-width="0.9" />
<line x1="112.55" y1="199.80" x2="112.55" y2="205.00" stroke="#f2e8f6" stroke-width="0.9" />
<line x1="116.92" y1="199.80" x2="116.92" y2="205.00" stroke="#f2e8f6" stroke-width="0.9" />
<line x1="121.29" y1="199.80" x2="121.29" y2="205.00" stroke="#f2e8f6" stroke-width="0.9" />
<line x1="125.66" y1="199.80" x2="125.66" y2="205.00" stroke="#f2e8f6" stroke-width="0.9" />
<line x1="130.03" y1="199.80" x2="130.03" y2="205.00" stroke="#f2e8f6" stroke-width="0.9" />
<text x="35.80" y="213.00" font-size="7.0" text-anchor="start" fill="#1a1a1a" stroke="#1a1a1a" >1</text>
<text x="39.60" y="210.20" font-size="4.2" text-anchor="start" fill="#1a1a1a" stroke="#1a1a1a" >st</text>
<text x="45.00" y="213.00" font-size="7.0" text-anchor="start" fill="#1a1a1a" stroke="#1a1a1a" >5min</text>
<text x="94.20" y="214.00" font-size="7.0" text-anchor="start" fill="#1a1a1a" stroke="#1a1a1a" >2</text>
<text x="98.20" y="211.20" font-size="4.2" text-anchor="start" fill="#1a1a1a" stroke="#1a1a1a" >nd</text>
<text x="104.40" y="214.00" font-size="7.0" text-anchor="start" fill="#1a1a1a" stroke="#1a1a1a" >5min</text>
<rect x="18.40" y="239.30" width="56.40" height="7.20" fill="#fff" stroke="#e880a8" stroke-width="0.9" />
<path d="M45.3,215.6 H42.5 V269 M47.7,215.6 H50.5 V269 M45.3,268.8 H42.5 M47.7,268.8 H50.5" fill="none" stroke="#e880a8" stroke-width="0.9" stroke-dasharray="4.6,3.0"/>
<text x="6.40" y="237.20" font-size="6.4" text-anchor="start" fill="#1a1a1a" stroke="#1a1a1a" >closed arm</text>
<text x="33.00" y="277.40" font-size="6.4" text-anchor="start" fill="#1a1a1a" stroke="#1a1a1a" >open arm</text>
<path d="M62.2,241.6 C63,240.6 65,240.7 66.5,241.6 C67.8,242.2 68.4,243 67.6,243.8 C66.5,244.3 64.5,243.8 63.4,243.2 C62.6,242.8 62,242.2 62.2,241.6 Z" fill="#555" stroke="#444" stroke-width="0.4" />
<line x1="68.20" y1="243.00" x2="70.80" y2="242.20" stroke="#999" stroke-width="0.5" />
<path d="M62.6,238.5 C63.5,236 65,234.6 67,235 C70,235.8 72,234.5 74.5,231 C76.5,228.5 78.5,227 80,226" fill="none" stroke="#e6e6e6" stroke-width="0.5" />
<rect x="77.40" y="239.30" width="56.20" height="7.20" fill="#fff" stroke="#e880a8" stroke-width="0.9" />
<path d="M103.6,215.8 H100.8 V268.8 M105.8,215.8 H108.6 V268.8 M103.6,268.8 H100.8 M105.8,268.8 H108.6" fill="none" stroke="#8484f0" stroke-width="0.9" stroke-dasharray="4.6,3.0"/>
<path d="M109,216 C113,219 116,222 117,226 C118,235 116.5,250 112,262 L109,268" fill="none" stroke="#6a6aee" stroke-width="0.8" stroke-dasharray="1.8,1.8"/>
<text x="111.80" y="231.80" font-size="6.0" text-anchor="start" fill="#1a1a1a" stroke="#1a1a1a" >473nm, 20Hz, 20ms</text>
<path d="M83,261.6 C86,260.5 90,261 92.5,260 C95,259 95.5,256 97,254.5 C98.5,253 101,252.8 102.5,254 C103.5,255 104,256 104.2,257" fill="none" stroke="#6a6ae8" stroke-width="0.7" />
<path d="M104.6,256.8 C106,257.2 106.6,258.8 106.3,260.2 C106,261.4 105,261.8 104,261.4 C103.2,260.8 103.1,259 103.4,257.8 C103.6,257.2 104,256.8 104.6,256.8 Z" fill="#444" stroke="#333" stroke-width="0.3" />
<line x1="105.40" y1="261.80" x2="107.20" y2="264.80" stroke="#999" stroke-width="0.4" />
<text x="162.6" y="159.4" font-size="11" fill="#111" stroke="#111" style="stroke-width:0.2px">d</text>
<rect x="171.00" y="170.20" width="57.60" height="14.20" fill="#fae8f6" stroke="#ef9cb8" stroke-width="1.0" />
<text x="199.80" y="180.20" font-size="7.9" text-anchor="middle" fill="#1a1a1a" stroke="#1a1a1a" >eYFP-light off</text>
<rect x="230.00" y="170.20" width="58.00" height="14.20" fill="#c6c8f8" stroke="#7c7cf0" stroke-width="1.0" />
<text x="259.00" y="180.20" font-size="7.9" text-anchor="middle" fill="#1a1a1a" stroke="#1a1a1a" >eYFP-light on</text>
<rect x="289.00" y="170.20" width="58.00" height="14.20" fill="#fae8f6" stroke="#ef9cb8" stroke-width="1.0" />
<text x="318.00" y="180.20" font-size="7.9" text-anchor="middle" fill="#1a1a1a" stroke="#1a1a1a" >ChR2-light off</text>
<rect x="348.00" y="170.20" width="57.60" height="14.20" fill="#c6c8f8" stroke="#7c7cf0" stroke-width="1.0" />
<text x="376.80" y="180.20" font-size="7.9" text-anchor="middle" fill="#1a1a1a" stroke="#1a1a1a" >ChR2-light on</text>
<rect x="172.40" y="219.40" width="55.20" height="7.00" fill="#fff" stroke="#e880a8" stroke-width="0.9" />
<path d="M199.1,194.2 H196.3 V219.4 M200.9,194.2 H203.7 V219.4 M199.1,251.7 H196.3 V226.4 M200.9,251.7 H203.7 V226.4" fill="none" stroke="#e880a8" stroke-width="0.9" stroke-dasharray="4.6,3.0"/>
<line x1="199.40" y1="195.00" x2="199.40" y2="251.00" stroke="#b4b4b4" stroke-width="0.6" />
<path d="M174.2,222.7 L176.2,223.2 L178.2,223.0 L180.2,223.0 L182.2,223.1 L184.2,223.2 L186.2,223.0 L188.2,223.1 L190.2,223.2 L192.2,223.0 L194.2,222.9 L196.2,222.9 L198.2,223.1 L200.2,223.1 L202.2,223.2 L204.2,223.2 L206.2,222.9 L208.2,222.8 L210.2,222.9 L212.2,222.8 L214.2,223.1 L216.2,223.2 L218.2,223.2 L220.2,222.9 L222.2,223.2 L224.2,222.9 L226.2,223.0" fill="none" stroke="#111" stroke-width="1.1" />
<circle cx="199.50" cy="223.00" r="1.5" fill="#555" stroke="#333" stroke-width="0.4"/>
<rect x="230.10" y="219.40" width="55.40" height="7.00" fill="#fff" stroke="#e880a8" stroke-width="0.9" />
<path d="M257.1,194.2 H254.3 V219.4 M258.9,194.2 H261.7 V219.4 M257.1,251.7 H254.3 V226.4 M258.9,251.7 H261.7 V226.4" fill="none" stroke="#8484f0" stroke-width="0.9" stroke-dasharray="4.6,3.0"/>
<line x1="257.40" y1="195.00" x2="257.40" y2="251.00" stroke="#b4b4b4" stroke-width="0.6" />
<path d="M231.9,222.7 L233.9,223.1 L235.9,222.8 L237.9,222.8 L239.9,223.2 L241.9,222.9 L243.9,222.9 L245.9,223.0 L247.9,223.1 L249.9,222.8 L251.9,222.9 L253.9,223.0 L255.9,223.0 L257.9,222.9 L259.9,223.0 L261.9,223.2 L263.9,222.9 L265.9,223.0 L267.9,222.8 L269.9,222.9 L271.9,223.1 L273.9,222.8 L275.9,223.2 L277.9,223.2 L279.9,222.8 L281.9,223.2 L283.9,222.9 L285.9,223.1" fill="none" stroke="#222" stroke-width="1.0" />
<circle cx="257.50" cy="223.00" r="1.0" fill="#555" stroke="#333" stroke-width="0.4"/>
<line x1="257.40" y1="214.50" x2="257.40" y2="229.50" stroke="#333" stroke-width="0.8" />
<rect x="288.00" y="219.40" width="55.60" height="7.00" fill="#fff" stroke="#e880a8" stroke-width="0.9" />
<path d="M315.1,194.2 H312.3 V219.4 M316.9,194.2 H319.7 V219.4 M315.1,251.7 H312.3 V226.4 M316.9,251.7 H319.7 V226.4" fill="none" stroke="#e880a8" stroke-width="0.9" stroke-dasharray="4.6,3.0"/>
<line x1="315.40" y1="195.00" x2="315.40" y2="251.00" stroke="#b4b4b4" stroke-width="0.6" />
<path d="M289.8,222.7 L291.8,223.1 L293.8,222.9 L295.8,223.1 L297.8,223.1 L299.8,223.2 L301.8,222.9 L303.8,223.1 L305.8,223.2 L307.8,223.1 L309.8,223.0 L311.8,222.8 L313.8,223.0 L315.8,222.9 L317.8,223.1 L319.8,223.1 L321.8,223.0 L323.8,222.8 L325.8,223.1 L327.8,223.1 L329.8,222.8 L331.8,223.2 L333.8,223.1 L335.8,222.8 L337.8,223.2 L339.8,222.8 L341.8,222.9 L343.8,223.1" fill="none" stroke="#333" stroke-width="0.9" />
<circle cx="315.50" cy="223.00" r="1.2" fill="#555" stroke="#333" stroke-width="0.4"/>
<rect x="346.00" y="219.40" width="55.40" height="7.00" fill="#fff" stroke="#e880a8" stroke-width="0.9" />
<path d="M373.0,194.2 H370.2 V219.4 M374.79999999999995,194.2 H377.59999999999997 V219.4 M373.0,251.7 H370.2 V226.4 M374.79999999999995,251.7 H377.59999999999997 V226.4" fill="none" stroke="#8484f0" stroke-width="0.9" stroke-dasharray="4.6,3.0"/>
<line x1="373.30" y1="195.00" x2="373.30" y2="251.00" stroke="#b4b4b4" stroke-width="0.6" />
<path d="M347.8,222.7 L349.8,223.0 L351.8,223.0 L353.8,223.1 L355.8,223.0 L357.8,222.9 L359.8,222.8 L361.8,222.8 L363.8,223.1 L365.8,223.1 L367.8,223.0 L369.8,223.1 L371.8,222.9 L373.8,222.9 L375.8,222.9 L377.8,223.2 L379.8,222.8 L381.8,223.0 L383.8,222.9 L385.8,223.1 L387.8,222.9 L389.8,222.9 L391.8,223.0 L393.8,223.0 L395.8,223.1 L397.8,222.9 L399.8,223.2 L401.8,222.8" fill="none" stroke="#000" stroke-width="1.4" />
<circle cx="373.40" cy="223.00" r="2.2" fill="#555" stroke="#333" stroke-width="0.4"/>
<line x1="373.50" y1="198.00" x2="373.50" y2="246.00" stroke="#333" stroke-width="0.7" />
<path d="M397.4,221 L399.59999999999997,223 L397.4,225 Z" fill="#111" stroke="#111" stroke-width="0.5" />
<text x="415.2" y="158.2" font-size="11" fill="#111" stroke="#111" style="stroke-width:0.2px">e</text>
<rect x="441.40" y="240.17" width="11.60" height="7.13" fill="#f6d2f4" stroke="#222" stroke-width="0.9" />
<rect x="460.00" y="239.75" width="10.90" height="7.55" fill="#c2c4f8" stroke="#222" stroke-width="0.9" />
<rect x="490.00" y="240.17" width="10.80" height="7.13" fill="#f6d2f4" stroke="#222" stroke-width="0.9" />
<rect x="508.50" y="219.41" width="11.30" height="27.89" fill="#c2c4f8" stroke="#222" stroke-width="0.9" />
<line x1="434.60" y1="184.40" x2="434.60" y2="247.30" stroke="#333" stroke-width="0.9" />
<line x1="434.60" y1="247.30" x2="526.60" y2="247.30" stroke="#333" stroke-width="0.9" />
<line x1="432.60" y1="247.30" x2="434.60" y2="247.30" stroke="#333" stroke-width="0.9" />
<text x="431.80" y="249.24" font-size="5.4" text-anchor="end" fill="#1a1a1a" stroke="#1a1a1a" >0</text>
<line x1="432.60" y1="226.33" x2="434.60" y2="226.33" stroke="#333" stroke-width="0.9" />
<text x="431.80" y="228.28" font-size="5.4" text-anchor="end" fill="#1a1a1a" stroke="#1a1a1a" >100</text>
<line x1="432.60" y1="205.37" x2="434.60" y2="205.37" stroke="#333" stroke-width="0.9" />
<text x="431.80" y="207.31" font-size="5.4" text-anchor="end" fill="#1a1a1a" stroke="#1a1a1a" >200</text>
<line x1="432.60" y1="184.40" x2="434.60" y2="184.40" stroke="#333" stroke-width="0.9" />
<text x="431.80" y="186.34" font-size="5.4" text-anchor="end" fill="#1a1a1a" stroke="#1a1a1a" >300</text>
<line x1="456.40" y1="247.30" x2="456.40" y2="249.30" stroke="#333" stroke-width="0.9" />
<line x1="504.30" y1="247.30" x2="504.30" y2="249.30" stroke="#333" stroke-width="0.9" />
<line x1="447.00" y1="227.59" x2="465.50" y2="228.64" stroke="#222" stroke-width="0.7" />
<line x1="447.00" y1="238.91" x2="465.50" y2="230.74" stroke="#222" stroke-width="0.7" />
<line x1="447.00" y1="239.75" x2="465.50" y2="233.46" stroke="#222" stroke-width="0.7" />
<line x1="447.00" y1="240.59" x2="465.50" y2="236.19" stroke="#222" stroke-width="0.7" />
<line x1="447.00" y1="243.11" x2="465.50" y2="240.80" stroke="#222" stroke-width="0.7" />
<line x1="447.00" y1="243.95" x2="465.50" y2="238.28" stroke="#222" stroke-width="0.7" />
<line x1="447.00" y1="245.83" x2="465.50" y2="243.95" stroke="#222" stroke-width="0.7" />
<circle cx="447.00" cy="227.59" r="1.8" fill="#fff" stroke="#1a1a1a" stroke-width="0.8"/>
<circle cx="447.00" cy="238.91" r="1.8" fill="#fff" stroke="#1a1a1a" stroke-width="0.8"/>
<circle cx="447.00" cy="239.75" r="1.8" fill="#fff" stroke="#1a1a1a" stroke-width="0.8"/>
<circle cx="447.00" cy="240.59" r="1.8" fill="#fff" stroke="#1a1a1a" stroke-width="0.8"/>
<circle cx="447.00" cy="243.11" r="1.8" fill="#fff" stroke="#1a1a1a" stroke-width="0.8"/>
<circle cx="447.00" cy="243.95" r="1.8" fill="#fff" stroke="#1a1a1a" stroke-width="0.8"/>
<circle cx="447.00" cy="245.83" r="1.8" fill="#fff" stroke="#1a1a1a" stroke-width="0.8"/>
<rect x="463.80" y="226.94" width="3.40" height="3.40" fill="#fff" stroke="#1a1a1a" stroke-width="0.8" />
<rect x="463.80" y="229.04" width="3.40" height="3.40" fill="#fff" stroke="#1a1a1a" stroke-width="0.8" />
<rect x="463.80" y="231.76" width="3.40" height="3.40" fill="#fff" stroke="#1a1a1a" stroke-width="0.8" />
<rect x="463.80" y="234.49" width="3.40" height="3.40" fill="#fff" stroke="#1a1a1a" stroke-width="0.8" />
<rect x="463.80" y="239.10" width="3.40" height="3.40" fill="#fff" stroke="#1a1a1a" stroke-width="0.8" />
<rect x="463.80" y="236.58" width="3.40" height="3.40" fill="#fff" stroke="#1a1a1a" stroke-width="0.8" />
<rect x="463.80" y="242.25" width="3.40" height="3.40" fill="#fff" stroke="#1a1a1a" stroke-width="0.8" />
<line x1="495.80" y1="234.30" x2="513.60" y2="196.35" stroke="#222" stroke-width="0.7" />
<line x1="495.80" y1="237.87" x2="513.60" y2="207.46" stroke="#222" stroke-width="0.7" />
<line x1="495.80" y1="239.96" x2="513.60" y2="217.95" stroke="#222" stroke-width="0.7" />
<line x1="495.80" y1="241.43" x2="513.60" y2="227.38" stroke="#222" stroke-width="0.7" />
<line x1="495.80" y1="243.11" x2="513.60" y2="233.25" stroke="#222" stroke-width="0.7" />
<line x1="495.80" y1="244.78" x2="513.60" y2="236.82" stroke="#222" stroke-width="0.7" />
<line x1="495.80" y1="245.62" x2="513.60" y2="237.87" stroke="#222" stroke-width="0.7" />
<circle cx="495.80" cy="234.30" r="1.8" fill="#fff" stroke="#1a1a1a" stroke-width="0.8"/>
<circle cx="495.80" cy="237.87" r="1.8" fill="#fff" stroke="#1a1a1a" stroke-width="0.8"/>
<circle cx="495.80" cy="239.96" r="1.8" fill="#fff" stroke="#1a1a1a" stroke-width="0.8"/>
<circle cx="495.80" cy="241.43" r="1.8" fill="#fff" stroke="#1a1a1a" stroke-width="0.8"/>
<circle cx="495.80" cy="243.11" r="1.8" fill="#fff" stroke="#1a1a1a" stroke-width="0.8"/>
<circle cx="495.80" cy="244.78" r="1.8" fill="#fff" stroke="#1a1a1a" stroke-width="0.8"/>
<circle cx="495.80" cy="245.62" r="1.8" fill="#fff" stroke="#1a1a1a" stroke-width="0.8"/>
<rect x="511.90" y="194.65" width="3.40" height="3.40" fill="#fff" stroke="#1a1a1a" stroke-width="0.8" />
<rect x="511.90" y="205.76" width="3.40" height="3.40" fill="#fff" stroke="#1a1a1a" stroke-width="0.8" />
<rect x="511.90" y="216.25" width="3.40" height="3.40" fill="#fff" stroke="#1a1a1a" stroke-width="0.8" />
<rect x="511.90" y="225.68" width="3.40" height="3.40" fill="#fff" stroke="#1a1a1a" stroke-width="0.8" />
<rect x="511.90" y="231.55" width="3.40" height="3.40" fill="#fff" stroke="#1a1a1a" stroke-width="0.8" />
<rect x="511.90" y="235.12" width="3.40" height="3.40" fill="#fff" stroke="#1a1a1a" stroke-width="0.8" />
<rect x="511.90" y="236.17" width="3.40" height="3.40" fill="#fff" stroke="#1a1a1a" stroke-width="0.8" />
<text x="456.30" y="256.80" font-size="5.6" text-anchor="middle" fill="#1a1a1a" stroke="#1a1a1a" style="stroke-width:0.3px" >eYFP</text>
<text x="504.40" y="256.80" font-size="5.6" text-anchor="middle" fill="#1a1a1a" stroke="#1a1a1a" style="stroke-width:0.3px" >ChR2</text>
<text transform="translate(419.2,215.4) rotate(-90)" font-size="7.0" text-anchor="middle" fill="#1a1a1a" style="stroke-width:0.2px">Open arm duration(s)</text>
<line x1="442.00" y1="180.20" x2="449.80" y2="180.20" stroke="#222" stroke-width="0.8" />
<circle cx="445.90" cy="180.20" r="1.8" fill="#fff" stroke="#1a1a1a" stroke-width="0.8"/>
<text x="454.10" y="182.32" font-size="5.9" text-anchor="start" fill="#1a1a1a" stroke="#1a1a1a" >light-off</text>
<line x1="442.00" y1="189.40" x2="449.80" y2="189.40" stroke="#222" stroke-width="0.8" />
<rect x="444.20" y="187.70" width="3.40" height="3.40" fill="#fff" stroke="#1a1a1a" stroke-width="0.8" />
<text x="454.10" y="191.52" font-size="5.9" text-anchor="start" fill="#1a1a1a" stroke="#1a1a1a" >light-on</text>
<text x="444.60" y="213.60" font-size="7.2" text-anchor="start" fill="#1a1a1a" stroke="#1a1a1a" ><tspan font-style="italic">p</tspan>=0.2707</text>
<line x1="447.40" y1="215.80" x2="465.00" y2="215.80" stroke="#444" stroke-width="1.1" />
<text x="507.40" y="188.60" font-size="8.0" text-anchor="middle" fill="#1a1a1a" stroke="#1a1a1a" >*</text>
<text x="510.00" y="187.00" font-size="6.9" text-anchor="start" fill="#1a1a1a" stroke="#1a1a1a" ><tspan font-style="italic">p</tspan>=0.0111</text>
<line x1="499.00" y1="189.60" x2="514.00" y2="189.60" stroke="#444" stroke-width="1.1" />
<rect x="571.10" y="217.41" width="11.20" height="29.89" fill="#f6d2f4" stroke="#222" stroke-width="0.9" />
<rect x="589.40" y="219.31" width="11.20" height="27.99" fill="#c2c4f8" stroke="#222" stroke-width="0.9" />
<rect x="618.70" y="218.00" width="10.90" height="29.30" fill="#f6d2f4" stroke="#222" stroke-width="0.9" />
<rect x="636.40" y="219.71" width="10.60" height="27.59" fill="#c2c4f8" stroke="#222" stroke-width="0.9" />
<line x1="564.60" y1="185.60" x2="564.60" y2="247.30" stroke="#333" stroke-width="0.9" />
<line x1="564.60" y1="247.30" x2="653.00" y2="247.30" stroke="#333" stroke-width="0.9" />
<line x1="562.60" y1="247.30" x2="564.60" y2="247.30" stroke="#333" stroke-width="0.9" />
<text x="561.20" y="249.24" font-size="5.4" text-anchor="end" fill="#1a1a1a" stroke="#1a1a1a" >0</text>
<line x1="562.60" y1="234.96" x2="564.60" y2="234.96" stroke="#333" stroke-width="0.9" />
<text x="561.20" y="236.90" font-size="5.4" text-anchor="end" fill="#1a1a1a" stroke="#1a1a1a" >500</text>
<line x1="562.60" y1="222.62" x2="564.60" y2="222.62" stroke="#333" stroke-width="0.9" />
<text x="561.20" y="224.56" font-size="5.4" text-anchor="end" fill="#1a1a1a" stroke="#1a1a1a" >1000</text>
<line x1="562.60" y1="210.28" x2="564.60" y2="210.28" stroke="#333" stroke-width="0.9" />
<text x="561.20" y="212.22" font-size="5.4" text-anchor="end" fill="#1a1a1a" stroke="#1a1a1a" >1500</text>
<line x1="562.60" y1="197.94" x2="564.60" y2="197.94" stroke="#333" stroke-width="0.9" />
<text x="561.20" y="199.88" font-size="5.4" text-anchor="end" fill="#1a1a1a" stroke="#1a1a1a" >2000</text>
<line x1="562.60" y1="185.60" x2="564.60" y2="185.60" stroke="#333" stroke-width="0.9" />
<text x="561.20" y="187.54" font-size="5.4" text-anchor="end" fill="#1a1a1a" stroke="#1a1a1a" >2500</text>
<line x1="586.00" y1="247.30" x2="586.00" y2="249.30" stroke="#333" stroke-width="0.9" />
<line x1="632.40" y1="247.30" x2="632.40" y2="249.30" stroke="#333" stroke-width="0.9" />
<line x1="576.70" y1="203.69" x2="594.50" y2="206.21" stroke="#222" stroke-width="0.7" />
<line x1="576.70" y1="210.60" x2="594.50" y2="210.01" stroke="#222" stroke-width="0.7" />
<line x1="576.70" y1="213.71" x2="594.50" y2="212.40" stroke="#222" stroke-width="0.7" />
<line x1="576.70" y1="215.61" x2="594.50" y2="234.29" stroke="#222" stroke-width="0.7" />
<line x1="576.70" y1="217.19" x2="594.50" y2="220.50" stroke="#222" stroke-width="0.7" />
<line x1="576.70" y1="231.50" x2="594.50" y2="215.61" stroke="#222" stroke-width="0.7" />
<line x1="576.70" y1="232.00" x2="594.50" y2="230.49" stroke="#222" stroke-width="0.7" />
<circle cx="576.70" cy="203.69" r="1.8" fill="#fff" stroke="#1a1a1a" stroke-width="0.8"/>
<circle cx="576.70" cy="210.60" r="1.8" fill="#fff" stroke="#1a1a1a" stroke-width="0.8"/>
<circle cx="576.70" cy="213.71" r="1.8" fill="#fff" stroke="#1a1a1a" stroke-width="0.8"/>
<circle cx="576.70" cy="215.61" r="1.8" fill="#fff" stroke="#1a1a1a" stroke-width="0.8"/>
<circle cx="576.70" cy="217.19" r="1.8" fill="#fff" stroke="#1a1a1a" stroke-width="0.8"/>
<circle cx="576.70" cy="231.50" r="1.8" fill="#fff" stroke="#1a1a1a" stroke-width="0.8"/>
<circle cx="576.70" cy="232.00" r="1.8" fill="#fff" stroke="#1a1a1a" stroke-width="0.8"/>
<rect x="592.80" y="204.51" width="3.40" height="3.40" fill="#fff" stroke="#1a1a1a" stroke-width="0.8" />
<rect x="592.80" y="208.31" width="3.40" height="3.40" fill="#fff" stroke="#1a1a1a" stroke-width="0.8" />
<rect x="592.80" y="210.70" width="3.40" height="3.40" fill="#fff" stroke="#1a1a1a" stroke-width="0.8" />
<rect x="592.80" y="232.59" width="3.40" height="3.40" fill="#fff" stroke="#1a1a1a" stroke-width="0.8" />
<rect x="592.80" y="218.80" width="3.40" height="3.40" fill="#fff" stroke="#1a1a1a" stroke-width="0.8" />
<rect x="592.80" y="213.91" width="3.40" height="3.40" fill="#fff" stroke="#1a1a1a" stroke-width="0.8" />
<rect x="592.80" y="228.79" width="3.40" height="3.40" fill="#fff" stroke="#1a1a1a" stroke-width="0.8" />
<line x1="623.70" y1="209.29" x2="641.40" y2="197.69" stroke="#222" stroke-width="0.7" />
<line x1="623.70" y1="212.75" x2="641.40" y2="209.69" stroke="#222" stroke-width="0.7" />
<line x1="623.70" y1="213.24" x2="641.40" y2="215.91" stroke="#222" stroke-width="0.7" />
<line x1="623.70" y1="218.70" x2="641.40" y2="220.50" stroke="#222" stroke-width="0.7" />
<line x1="623.70" y1="221.81" x2="641.40" y2="223.61" stroke="#222" stroke-width="0.7" />
<line x1="623.70" y1="223.61" x2="641.40" y2="230.10" stroke="#222" stroke-width="0.7" />
<line x1="623.70" y1="226.10" x2="641.40" y2="222.62" stroke="#222" stroke-width="0.7" />
<circle cx="623.70" cy="209.29" r="1.8" fill="#fff" stroke="#1a1a1a" stroke-width="0.8"/>
<circle cx="623.70" cy="212.75" r="1.8" fill="#fff" stroke="#1a1a1a" stroke-width="0.8"/>
<circle cx="623.70" cy="213.24" r="1.8" fill="#fff" stroke="#1a1a1a" stroke-width="0.8"/>
<circle cx="623.70" cy="218.70" r="1.8" fill="#fff" stroke="#1a1a1a" stroke-width="0.8"/>
<circle cx="623.70" cy="221.81" r="1.8" fill="#fff" stroke="#1a1a1a" stroke-width="0.8"/>
<circle cx="623.70" cy="223.61" r="1.8" fill="#fff" stroke="#1a1a1a" stroke-width="0.8"/>
<circle cx="623.70" cy="226.10" r="1.8" fill="#fff" stroke="#1a1a1a" stroke-width="0.8"/>
<rect x="639.70" y="195.99" width="3.40" height="3.40" fill="#fff" stroke="#1a1a1a" stroke-width="0.8" />
<rect x="639.70" y="207.99" width="3.40" height="3.40" fill="#fff" stroke="#1a1a1a" stroke-width="0.8" />
<rect x="639.70" y="214.21" width="3.40" height="3.40" fill="#fff" stroke="#1a1a1a" stroke-width="0.8" />
<rect x="639.70" y="218.80" width="3.40" height="3.40" fill="#fff" stroke="#1a1a1a" stroke-width="0.8" />
<rect x="639.70" y="221.91" width="3.40" height="3.40" fill="#fff" stroke="#1a1a1a" stroke-width="0.8" />
<rect x="639.70" y="228.40" width="3.40" height="3.40" fill="#fff" stroke="#1a1a1a" stroke-width="0.8" />
<rect x="639.70" y="220.92" width="3.40" height="3.40" fill="#fff" stroke="#1a1a1a" stroke-width="0.8" />
<text x="586.00" y="256.80" font-size="5.6" text-anchor="middle" fill="#1a1a1a" stroke="#1a1a1a" style="stroke-width:0.3px" >eYFP</text>
<text x="632.40" y="256.80" font-size="5.6" text-anchor="middle" fill="#1a1a1a" stroke="#1a1a1a" style="stroke-width:0.3px" >ChR2</text>
<text transform="translate(543.6,213.1) rotate(-90)" font-size="6.2" text-anchor="middle" fill="#1a1a1a" style="stroke-width:0.32px">Total travel distance (cm)</text>
<line x1="649.40" y1="182.20" x2="657.20" y2="182.20" stroke="#222" stroke-width="0.8" />
<circle cx="653.30" cy="182.20" r="1.9" fill="#fff" stroke="#1a1a1a" stroke-width="0.8"/>
<text x="659.70" y="184.61" font-size="6.7" text-anchor="start" fill="#1a1a1a" stroke="#1a1a1a" >light-off</text>
<line x1="649.40" y1="190.80" x2="657.20" y2="190.80" stroke="#222" stroke-width="0.8" />
<rect x="651.50" y="189.00" width="3.60" height="3.60" fill="#fff" stroke="#1a1a1a" stroke-width="0.8" />
<text x="659.70" y="193.21" font-size="6.7" text-anchor="start" fill="#1a1a1a" stroke="#1a1a1a" >light-on</text>
<text x="571.00" y="191.00" font-size="8.1" text-anchor="start" fill="#1a1a1a" stroke="#1a1a1a" ><tspan font-style="italic">p</tspan>=0.7536</text>
<line x1="577.40" y1="194.40" x2="592.40" y2="194.40" stroke="#444" stroke-width="1.1" />
<text x="613.00" y="192.40" font-size="8.0" text-anchor="start" fill="#1a1a1a" stroke="#1a1a1a" ><tspan font-style="italic">p</tspan>=0.6413</text>
<line x1="625.60" y1="194.60" x2="639.60" y2="194.60" stroke="#444" stroke-width="1.1" />
<text x="2.8" y="294.2" font-size="11" fill="#111" stroke="#111" style="stroke-width:0.2px">f</text>
<rect x="16.10" y="294.40" width="58.80" height="15.50" fill="#fae8f6" stroke="#ef9cb8" stroke-width="1.0" />
<text x="47.80" y="305.75" font-size="7.9" text-anchor="middle" fill="#1a1a1a" stroke="#1a1a1a" >TS-light off</text>
<rect x="81.60" y="294.30" width="57.20" height="15.60" fill="#c6c8f8" stroke="#a4a6f2" stroke-width="1.0" />
<text x="111.20" y="306.10" font-size="7.9" text-anchor="middle" fill="#1a1a1a" stroke="#1a1a1a" >TS-light on</text>
<text x="92.30" y="317.40" font-size="7.0" text-anchor="middle" fill="#1a1a1a" stroke="#1a1a1a" >20s</text>
<text x="109.20" y="317.40" font-size="7.0" text-anchor="middle" fill="#1a1a1a" stroke="#1a1a1a" >10s</text>
<text x="127.20" y="317.40" font-size="7.0" text-anchor="middle" fill="#1a1a1a" stroke="#1a1a1a" >20s</text>
<path d="M78.4,322.59999999999997 V321.4 H91.1 L92.3,319.79999999999995 L93.5,321.4 H108.0 L109.2,319.79999999999995 L110.4,321.4 H126.0 L127.2,319.79999999999995 L128.4,321.4 H140 V322.59999999999997" fill="none" stroke="#555" stroke-width="0.6" />
<line x1="103.60" y1="321.40" x2="103.60" y2="322.60" stroke="#555" stroke-width="0.6" />
<line x1="114.40" y1="321.40" x2="114.40" y2="322.60" stroke="#555" stroke-width="0.6" />
<rect x="33.00" y="322.40" width="23.40" height="9.20" fill="#f8e2f4" stroke="#999" stroke-width="0.7" stroke-dasharray="2,1.2"/>
<text x="44.70" y="329.40" font-size="6.9" text-anchor="middle" fill="#1a1a1a" stroke="#1a1a1a" >light off</text>
<rect x="78.40" y="322.80" width="25.20" height="9.60" fill="#c6c8f8" stroke="#999" stroke-width="0.7" stroke-dasharray="2,1.2"/>
<rect x="103.60" y="322.80" width="10.80" height="9.60" fill="#f8e2f4" stroke="#999" stroke-width="0.7" stroke-dasharray="2,1.2"/>
<rect x="114.40" y="322.80" width="25.60" height="9.60" fill="#c6c8f8" stroke="#999" stroke-width="0.7" stroke-dasharray="2,1.2"/>
<text x="91.00" y="330.00" font-size="6.9" text-anchor="middle" fill="#1a1a1a" stroke="#1a1a1a" >light on</text>
<text x="109.00" y="330.00" font-size="6.9" text-anchor="middle" fill="#1a1a1a" stroke="#1a1a1a" >off</text>
<text x="127.20" y="330.00" font-size="6.9" text-anchor="middle" fill="#1a1a1a" stroke="#1a1a1a" >light on</text>
<line x1="34.00" y1="331.60" x2="13.50" y2="342.00" stroke="#e87aa6" stroke-width="0.8" />
<line x1="56.00" y1="331.60" x2="74.00" y2="342.00" stroke="#e87aa6" stroke-width="0.8" />
<line x1="79.00" y1="332.40" x2="104.00" y2="342.00" stroke="#6a6aee" stroke-width="0.8" stroke-dasharray="2.2,1.6"/>
<line x1="140.00" y1="332.40" x2="116.00" y2="342.00" stroke="#6a6aee" stroke-width="0.8" stroke-dasharray="2.2,1.6"/>
<rect x="13.00" y="342.00" width="61.40" height="6.00" fill="#f5e5f3" stroke="#d8d0dc" stroke-width="0.5" />
<line x1="15.56" y1="342.30" x2="15.56" y2="347.70" stroke="#cfbacf" stroke-width="0.9" />
<line x1="18.12" y1="342.30" x2="18.12" y2="347.70" stroke="#cfbacf" stroke-width="0.9" />
<line x1="20.68" y1="342.30" x2="20.68" y2="347.70" stroke="#cfbacf" stroke-width="0.9" />
<line x1="23.23" y1="342.30" x2="23.23" y2="347.70" stroke="#cfbacf" stroke-width="0.9" />
<line x1="25.79" y1="342.30" x2="25.79" y2="347.70" stroke="#cfbacf" stroke-width="0.9" />
<line x1="28.35" y1="342.30" x2="28.35" y2="347.70" stroke="#cfbacf" stroke-width="0.9" />
<line x1="30.91" y1="342.30" x2="30.91" y2="347.70" stroke="#cfbacf" stroke-width="0.9" />
<line x1="33.47" y1="342.30" x2="33.47" y2="347.70" stroke="#cfbacf" stroke-width="0.9" />
<line x1="36.03" y1="342.30" x2="36.03" y2="347.70" stroke="#cfbacf" stroke-width="0.9" />
<line x1="38.58" y1="342.30" x2="38.58" y2="347.70" stroke="#cfbacf" stroke-width="0.9" />
<line x1="41.14" y1="342.30" x2="41.14" y2="347.70" stroke="#cfbacf" stroke-width="0.9" />
<line x1="43.70" y1="342.30" x2="43.70" y2="347.70" stroke="#cfbacf" stroke-width="0.9" />
<line x1="46.26" y1="342.30" x2="46.26" y2="347.70" stroke="#cfbacf" stroke-width="0.9" />
<line x1="48.82" y1="342.30" x2="48.82" y2="347.70" stroke="#cfbacf" stroke-width="0.9" />
<line x1="51.38" y1="342.30" x2="51.38" y2="347.70" stroke="#cfbacf" stroke-width="0.9" />
<line x1="53.93" y1="342.30" x2="53.93" y2="347.70" stroke="#cfbacf" stroke-width="0.9" />
<line x1="56.49" y1="342.30" x2="56.49" y2="347.70" stroke="#cfbacf" stroke-width="0.9" />
<line x1="59.05" y1="342.30" x2="59.05" y2="347.70" stroke="#cfbacf" stroke-width="0.9" />
<line x1="61.61" y1="342.30" x2="61.61" y2="347.70" stroke="#cfbacf" stroke-width="0.9" />
<line x1="64.17" y1="342.30" x2="64.17" y2="347.70" stroke="#cfbacf" stroke-width="0.9" />
<line x1="66.73" y1="342.30" x2="66.73" y2="347.70" stroke="#cfbacf" stroke-width="0.9" />
<line x1="69.28" y1="342.30" x2="69.28" y2="347.70" stroke="#cfbacf" stroke-width="0.9" />
<line x1="71.84" y1="342.30" x2="71.84" y2="347.70" stroke="#cfbacf" stroke-width="0.9" />
<rect x="79.60" y="342.00" width="60.90" height="6.00" fill="#c2c4f6" stroke="#d8d0dc" stroke-width="0.5" />
<line x1="84.67" y1="342.30" x2="84.67" y2="347.70" stroke="#f2e8f6" stroke-width="0.9" />
<line x1="89.75" y1="342.30" x2="89.75" y2="347.70" stroke="#f2e8f6" stroke-width="0.9" />
<line x1="94.82" y1="342.30" x2="94.82" y2="347.70" stroke="#f2e8f6" stroke-width="0.9" />
<line x1="99.90" y1="342.30" x2="99.90" y2="347.70" stroke="#f2e8f6" stroke-width="0.9" />
<line x1="104.97" y1="342.30" x2="104.97" y2="347.70" stroke="#f2e8f6" stroke-width="0.9" />
<line x1="110.05" y1="342.30" x2="110.05" y2="347.70" stroke="#f2e8f6" stroke-width="0.9" />
<line x1="115.12" y1="342.30" x2="115.12" y2="347.70" stroke="#f2e8f6" stroke-width="0.9" />
<line x1="120.20" y1="342.30" x2="120.20" y2="347.70" stroke="#f2e8f6" stroke-width="0.9" />
<line x1="125.28" y1="342.30" x2="125.28" y2="347.70" stroke="#f2e8f6" stroke-width="0.9" />
<line x1="130.35" y1="342.30" x2="130.35" y2="347.70" stroke="#f2e8f6" stroke-width="0.9" />
<line x1="135.43" y1="342.30" x2="135.43" y2="347.70" stroke="#f2e8f6" stroke-width="0.9" />
<text x="42.60" y="354.60" font-size="6.8" text-anchor="middle" fill="#1a1a1a" stroke="#1a1a1a" >10min</text>
<text x="110.60" y="354.60" font-size="6.8" text-anchor="middle" fill="#1a1a1a" stroke="#1a1a1a" >10min</text>
<rect x="13.60" y="358.20" width="61.40" height="2.80" fill="#8a8a8a" stroke="none" stroke-width="1" />
<rect x="79.00" y="358.20" width="61.50" height="2.80" fill="#8a8a8a" stroke="none" stroke-width="1" />
<path d="M44.1,358 C44.1,361 47.1,361 47.1,358" fill="none" stroke="#bbb" stroke-width="0.6" />
<path d="M45.6,360.5 C44.800000000000004,363 46.0,366 45.0,369 C44.1,372 42.6,373 43.0,375.5 C43.6,378 45.6,379 45.6,382" fill="none" stroke="#777" stroke-width="0.7" />
<path d="M41.1,371.5 L45.1,370.5 L44.6,374 L41.6,374.2 Z" fill="#ccc" stroke="#999" stroke-width="0.4" />
<path d="M45.1,383.2 C47.6,383.4 48.800000000000004,386 48.4,389 C48.0,392 46.1,394 42.6,395 C40.6,395.6 38.6,396.6 37.0,396.2 C36.6,395 37.6,393.5 38.0,392 C37.800000000000004,389 40.1,385 45.1,383.2 Z" fill="#5a5a5a" stroke="#4a4a4a" stroke-width="0.4" />
<path d="M48.1,385 L49.800000000000004,384.4 M47.6,391 L49.6,392.6 M37.6,395.6 L36.0,396.2" fill="none" stroke="#555" stroke-width="0.8" />
<path d="M27.6,372.5 C29.1,377 32.6,381 34.1,384 C34.6,387 31.6,390 31.1,393 C31.6,395.5 34.6,396.5 37.2,396" fill="none" stroke="#f2d0e0" stroke-width="0.5" />
<path d="M109.3,358 C109.3,361 112.3,361 112.3,358" fill="none" stroke="#bbb" stroke-width="0.6" />
<path d="M110.8,360.5 C110.0,363 111.2,366 110.2,369 C109.3,372 107.8,373 108.2,375.5 C108.8,378 110.8,379 110.8,382" fill="none" stroke="#777" stroke-width="0.7" />
<path d="M106.3,371.5 L110.3,370.5 L109.8,374 L106.8,374.2 Z" fill="#ccc" stroke="#999" stroke-width="0.4" />
<path d="M110.3,383.2 C112.8,383.4 114.0,386 113.6,389 C113.2,392 111.3,394 107.8,395 C105.8,395.6 103.8,396.6 102.2,396.2 C101.8,395 102.8,393.5 103.2,392 C103.0,389 105.3,385 110.3,383.2 Z" fill="#5a5a5a" stroke="#4a4a4a" stroke-width="0.4" />
<path d="M113.3,385 L115.0,384.4 M112.8,391 L114.8,392.6 M102.8,395.6 L101.2,396.2" fill="none" stroke="#555" stroke-width="0.8" />
<path d="M92.8,372.5 C94.3,377 97.8,381 99.3,384 C99.8,387 96.8,390 96.3,393 C96.8,395.5 99.8,396.5 102.39999999999999,396" fill="none" stroke="#5a5ae6" stroke-width="0.8" />
<text x="160.6" y="293.4" font-size="11" fill="#111" stroke="#111" style="stroke-width:0.2px">g</text>
<rect x="192.20" y="341.12" width="14.00" height="47.18" fill="#f6d2f4" stroke="#222" stroke-width="0.9" />
<rect x="214.60" y="342.53" width="14.00" height="45.77" fill="#c2c4f8" stroke="#222" stroke-width="0.9" />
<rect x="251.10" y="347.12" width="14.60" height="41.18" fill="#f6d2f4" stroke="#222" stroke-width="0.9" />
<rect x="273.20" y="380.14" width="14.40" height="8.16" fill="#c2c4f8" stroke="#222" stroke-width="0.9" />
<line x1="181.20" y1="311.80" x2="181.20" y2="388.30" stroke="#333" stroke-width="0.9" />
<line x1="181.20" y1="388.30" x2="287.80" y2="388.30" stroke="#333" stroke-width="0.9" />
<line x1="179.20" y1="388.30" x2="181.20" y2="388.30" stroke="#333" stroke-width="0.9" />
<text x="177.20" y="390.78" font-size="6.9" text-anchor="end" fill="#1a1a1a" stroke="#1a1a1a" >0</text>
<line x1="179.20" y1="362.80" x2="181.20" y2="362.80" stroke="#333" stroke-width="0.9" />
<text x="177.20" y="365.28" font-size="6.9" text-anchor="end" fill="#1a1a1a" stroke="#1a1a1a" >200</text>
<line x1="179.20" y1="337.30" x2="181.20" y2="337.30" stroke="#333" stroke-width="0.9" />
<text x="177.20" y="339.78" font-size="6.9" text-anchor="end" fill="#1a1a1a" stroke="#1a1a1a" >400</text>
<line x1="179.20" y1="311.80" x2="181.20" y2="311.80" stroke="#333" stroke-width="0.9" />
<text x="177.20" y="314.28" font-size="6.9" text-anchor="end" fill="#1a1a1a" stroke="#1a1a1a" >600</text>
<line x1="210.40" y1="388.30" x2="210.40" y2="390.30" stroke="#333" stroke-width="0.9" />
<line x1="269.40" y1="388.30" x2="269.40" y2="390.30" stroke="#333" stroke-width="0.9" />
<line x1="199.30" y1="329.01" x2="221.50" y2="338.70" stroke="#222" stroke-width="0.7" />
<line x1="199.30" y1="336.54" x2="221.50" y2="341.12" stroke="#222" stroke-width="0.7" />
<line x1="199.30" y1="339.34" x2="221.50" y2="343.42" stroke="#222" stroke-width="0.7" />
<line x1="199.30" y1="342.14" x2="221.50" y2="346.23" stroke="#222" stroke-width="0.7" />
<line x1="199.30" y1="349.41" x2="221.50" y2="347.75" stroke="#222" stroke-width="0.7" />
<circle cx="199.30" cy="329.01" r="2.0" fill="#fff" stroke="#1a1a1a" stroke-width="0.8"/>
<circle cx="199.30" cy="336.54" r="2.0" fill="#fff" stroke="#1a1a1a" stroke-width="0.8"/>
<circle cx="199.30" cy="339.34" r="2.0" fill="#fff" stroke="#1a1a1a" stroke-width="0.8"/>
<circle cx="199.30" cy="342.14" r="2.0" fill="#fff" stroke="#1a1a1a" stroke-width="0.8"/>
<circle cx="199.30" cy="349.41" r="2.0" fill="#fff" stroke="#1a1a1a" stroke-width="0.8"/>
<rect x="219.60" y="336.80" width="3.80" height="3.80" fill="#fff" stroke="#1a1a1a" stroke-width="0.8" />
<rect x="219.60" y="339.23" width="3.80" height="3.80" fill="#fff" stroke="#1a1a1a" stroke-width="0.8" />
<rect x="219.60" y="341.52" width="3.80" height="3.80" fill="#fff" stroke="#1a1a1a" stroke-width="0.8" />
<rect x="219.60" y="344.33" width="3.80" height="3.80" fill="#fff" stroke="#1a1a1a" stroke-width="0.8" />
<rect x="219.60" y="345.86" width="3.80" height="3.80" fill="#fff" stroke="#1a1a1a" stroke-width="0.8" />
<line x1="258.20" y1="342.14" x2="280.70" y2="366.37" stroke="#222" stroke-width="0.7" />
<line x1="258.20" y1="344.06" x2="280.70" y2="376.06" stroke="#222" stroke-width="0.7" />
<line x1="258.20" y1="346.23" x2="280.70" y2="378.10" stroke="#222" stroke-width="0.7" />
<line x1="258.20" y1="348.39" x2="280.70" y2="380.01" stroke="#222" stroke-width="0.7" />
<line x1="258.20" y1="350.94" x2="280.70" y2="381.93" stroke="#222" stroke-width="0.7" />
<line x1="258.20" y1="353.75" x2="280.70" y2="383.84" stroke="#222" stroke-width="0.7" />
<line x1="258.20" y1="355.92" x2="280.70" y2="385.75" stroke="#222" stroke-width="0.7" />
<circle cx="258.20" cy="342.14" r="2.0" fill="#fff" stroke="#1a1a1a" stroke-width="0.8"/>
<circle cx="258.20" cy="344.06" r="2.0" fill="#fff" stroke="#1a1a1a" stroke-width="0.8"/>
<circle cx="258.20" cy="346.23" r="2.0" fill="#fff" stroke="#1a1a1a" stroke-width="0.8"/>
<circle cx="258.20" cy="348.39" r="2.0" fill="#fff" stroke="#1a1a1a" stroke-width="0.8"/>
<circle cx="258.20" cy="350.94" r="2.0" fill="#fff" stroke="#1a1a1a" stroke-width="0.8"/>
<circle cx="258.20" cy="353.75" r="2.0" fill="#fff" stroke="#1a1a1a" stroke-width="0.8"/>
<circle cx="258.20" cy="355.92" r="2.0" fill="#fff" stroke="#1a1a1a" stroke-width="0.8"/>
<rect x="278.80" y="364.47" width="3.80" height="3.80" fill="#fff" stroke="#1a1a1a" stroke-width="0.8" />
<rect x="278.80" y="374.16" width="3.80" height="3.80" fill="#fff" stroke="#1a1a1a" stroke-width="0.8" />
<rect x="278.80" y="376.20" width="3.80" height="3.80" fill="#fff" stroke="#1a1a1a" stroke-width="0.8" />
<rect x="278.80" y="378.11" width="3.80" height="3.80" fill="#fff" stroke="#1a1a1a" stroke-width="0.8" />
<rect x="278.80" y="380.03" width="3.80" height="3.80" fill="#fff" stroke="#1a1a1a" stroke-width="0.8" />
<rect x="278.80" y="381.94" width="3.80" height="3.80" fill="#fff" stroke="#1a1a1a" stroke-width="0.8" />
<rect x="278.80" y="383.85" width="3.80" height="3.80" fill="#fff" stroke="#1a1a1a" stroke-width="0.8" />
<text x="210.20" y="398.40" font-size="7.3" text-anchor="middle" fill="#1a1a1a" stroke="#1a1a1a" >eYFP</text>
<text x="268.80" y="398.40" font-size="7.3" text-anchor="middle" fill="#1a1a1a" stroke="#1a1a1a" >ChR2</text>
<text transform="translate(160.8,350.6) rotate(-90)" font-size="8.5" text-anchor="middle" fill="#1a1a1a">Immobility time (s)</text>
<line x1="279.10" y1="307.60" x2="286.90" y2="307.60" stroke="#222" stroke-width="0.8" />
<circle cx="283.00" cy="307.60" r="2.0" fill="#fff" stroke="#1a1a1a" stroke-width="0.8"/>
<text x="292.00" y="310.08" font-size="6.9" text-anchor="start" fill="#1a1a1a" stroke="#1a1a1a" >light off</text>
<line x1="279.10" y1="320.40" x2="286.90" y2="320.40" stroke="#222" stroke-width="0.8" />
<rect x="281.20" y="318.60" width="3.60" height="3.60" fill="#fff" stroke="#1a1a1a" stroke-width="0.8" />
<text x="292.00" y="322.88" font-size="6.9" text-anchor="start" fill="#1a1a1a" stroke="#1a1a1a" >light on</text>
<text x="197.00" y="322.60" font-size="6.2" text-anchor="start" fill="#1a1a1a" stroke="#1a1a1a" ><tspan font-style="italic">p</tspan>=0.6806</text>
<line x1="200.00" y1="325.20" x2="220.00" y2="325.20" stroke="#444" stroke-width="1.0" />
<text x="268.30" y="338.00" font-size="8.4" text-anchor="middle" fill="#1a1a1a" stroke="#1a1a1a" >****</text>
<line x1="258.00" y1="337.20" x2="277.60" y2="337.20" stroke="#444" stroke-width="1.0" />
<text x="277.00" y="334.20" font-size="6.2" text-anchor="start" fill="#1a1a1a" stroke="#1a1a1a" ><tspan font-style="italic">p</tspan>=7.59659E-06</text>
<text x="328.8" y="293.6" font-size="11" fill="#111" stroke="#111" style="stroke-width:0.2px">h</text>
<rect x="340.60" y="294.70" width="68.90" height="16.90" fill="#fae8f6" stroke="#ef9cb8" stroke-width="1.0" />
<text x="375.35" y="306.15" font-size="9.2" text-anchor="middle" fill="#1a1a1a" stroke="#1a1a1a" >RTPP-light off</text>
<rect x="414.10" y="294.90" width="69.50" height="16.70" fill="#c6c8f8" stroke="#9092f0" stroke-width="1.0" />
<text x="449.15" y="305.80" font-size="9.2" text-anchor="middle" fill="#1a1a1a" stroke="#1a1a1a" >RTPP-light on</text>
<text x="431.50" y="318.60" font-size="7.0" text-anchor="middle" fill="#1a1a1a" stroke="#1a1a1a" >20s</text>
<text x="448.30" y="318.60" font-size="7.0" text-anchor="middle" fill="#1a1a1a" stroke="#1a1a1a" >10s</text>
<text x="466.10" y="318.60" font-size="7.0" text-anchor="middle" fill="#1a1a1a" stroke="#1a1a1a" >20s</text>
<path d="M417.6,323.8 V322.6 H430.3 L431.5,321.0 L432.7,322.6 H447.1 L448.3,321.0 L449.5,322.6 H464.90000000000003 L466.1,321.0 L467.3,322.6 H478.4 V323.8" fill="none" stroke="#555" stroke-width="0.6" />
<line x1="442.40" y1="322.60" x2="442.40" y2="323.80" stroke="#555" stroke-width="0.6" />
<line x1="453.60" y1="322.60" x2="453.60" y2="323.80" stroke="#555" stroke-width="0.6" />
<rect x="364.00" y="324.40" width="23.00" height="9.20" fill="#f8e2f4" stroke="#999" stroke-width="0.7" stroke-dasharray="2,1.2"/>
<text x="375.50" y="331.40" font-size="6.9" text-anchor="middle" fill="#1a1a1a" stroke="#1a1a1a" >light off</text>
<rect x="417.60" y="325.00" width="24.80" height="9.00" fill="#c6c8f8" stroke="#999" stroke-width="0.7" stroke-dasharray="2,1.2"/>
<rect x="442.40" y="325.00" width="11.20" height="9.00" fill="#f8e2f4" stroke="#999" stroke-width="0.7" stroke-dasharray="2,1.2"/>
<rect x="453.60" y="325.00" width="24.80" height="9.00" fill="#c6c8f8" stroke="#999" stroke-width="0.7" stroke-dasharray="2,1.2"/>
<text x="430.00" y="331.90" font-size="6.9" text-anchor="middle" fill="#1a1a1a" stroke="#1a1a1a" >light on</text>
<text x="448.00" y="331.90" font-size="6.9" text-anchor="middle" fill="#1a1a1a" stroke="#1a1a1a" >off</text>
<text x="466.00" y="331.90" font-size="6.9" text-anchor="middle" fill="#1a1a1a" stroke="#1a1a1a" >light on</text>
<line x1="365.00" y1="333.60" x2="344.50" y2="343.60" stroke="#e87aa6" stroke-width="0.8" />
<line x1="386.00" y1="333.60" x2="405.00" y2="343.60" stroke="#e87aa6" stroke-width="0.8" />
<line x1="418.00" y1="334.00" x2="443.00" y2="343.60" stroke="#6a6aee" stroke-width="0.8" stroke-dasharray="2.2,1.6"/>
<line x1="478.40" y1="334.00" x2="455.00" y2="343.60" stroke="#6a6aee" stroke-width="0.8" stroke-dasharray="2.2,1.6"/>
<rect x="343.80" y="343.60" width="61.40" height="6.00" fill="#f5e5f3" stroke="#d8d0dc" stroke-width="0.5" />
<line x1="346.59" y1="343.90" x2="346.59" y2="349.30" stroke="#cfbacf" stroke-width="0.9" />
<line x1="349.38" y1="343.90" x2="349.38" y2="349.30" stroke="#cfbacf" stroke-width="0.9" />
<line x1="352.17" y1="343.90" x2="352.17" y2="349.30" stroke="#cfbacf" stroke-width="0.9" />
<line x1="354.96" y1="343.90" x2="354.96" y2="349.30" stroke="#cfbacf" stroke-width="0.9" />
<line x1="357.75" y1="343.90" x2="357.75" y2="349.30" stroke="#cfbacf" stroke-width="0.9" />
<line x1="360.55" y1="343.90" x2="360.55" y2="349.30" stroke="#cfbacf" stroke-width="0.9" />
<line x1="363.34" y1="343.90" x2="363.34" y2="349.30" stroke="#cfbacf" stroke-width="0.9" />
<line x1="366.13" y1="343.90" x2="366.13" y2="349.30" stroke="#cfbacf" stroke-width="0.9" />
<line x1="368.92" y1="343.90" x2="368.92" y2="349.30" stroke="#cfbacf" stroke-width="0.9" />
<line x1="371.71" y1="343.90" x2="371.71" y2="349.30" stroke="#cfbacf" stroke-width="0.9" />
<line x1="374.50" y1="343.90" x2="374.50" y2="349.30" stroke="#cfbacf" stroke-width="0.9" />
<line x1="377.29" y1="343.90" x2="377.29" y2="349.30" stroke="#cfbacf" stroke-width="0.9" />
<line x1="380.08" y1="343.90" x2="380.08" y2="349.30" stroke="#cfbacf" stroke-width="0.9" />
<line x1="382.87" y1="343.90" x2="382.87" y2="349.30" stroke="#cfbacf" stroke-width="0.9" />
<line x1="385.66" y1="343.90" x2="385.66" y2="349.30" stroke="#cfbacf" stroke-width="0.9" />
<line x1="388.45" y1="343.90" x2="388.45" y2="349.30" stroke="#cfbacf" stroke-width="0.9" />
<line x1="391.25" y1="343.90" x2="391.25" y2="349.30" stroke="#cfbacf" stroke-width="0.9" />
<line x1="394.04" y1="343.90" x2="394.04" y2="349.30" stroke="#cfbacf" stroke-width="0.9" />
<line x1="396.83" y1="343.90" x2="396.83" y2="349.30" stroke="#cfbacf" stroke-width="0.9" />
<line x1="399.62" y1="343.90" x2="399.62" y2="349.30" stroke="#cfbacf" stroke-width="0.9" />
<line x1="402.41" y1="343.90" x2="402.41" y2="349.30" stroke="#cfbacf" stroke-width="0.9" />
<rect x="418.80" y="343.60" width="61.00" height="6.00" fill="#c2c4f6" stroke="#d8d0dc" stroke-width="0.5" />
<line x1="422.87" y1="343.90" x2="422.87" y2="349.30" stroke="#f2e8f6" stroke-width="0.9" />
<line x1="426.93" y1="343.90" x2="426.93" y2="349.30" stroke="#f2e8f6" stroke-width="0.9" />
<line x1="431.00" y1="343.90" x2="431.00" y2="349.30" stroke="#f2e8f6" stroke-width="0.9" />
<line x1="435.07" y1="343.90" x2="435.07" y2="349.30" stroke="#f2e8f6" stroke-width="0.9" />
<line x1="439.13" y1="343.90" x2="439.13" y2="349.30" stroke="#f2e8f6" stroke-width="0.9" />
<line x1="443.20" y1="343.90" x2="443.20" y2="349.30" stroke="#f2e8f6" stroke-width="0.9" />
<line x1="447.27" y1="343.90" x2="447.27" y2="349.30" stroke="#f2e8f6" stroke-width="0.9" />
<line x1="451.33" y1="343.90" x2="451.33" y2="349.30" stroke="#f2e8f6" stroke-width="0.9" />
<line x1="455.40" y1="343.90" x2="455.40" y2="349.30" stroke="#f2e8f6" stroke-width="0.9" />
<line x1="459.47" y1="343.90" x2="459.47" y2="349.30" stroke="#f2e8f6" stroke-width="0.9" />
<line x1="463.53" y1="343.90" x2="463.53" y2="349.30" stroke="#f2e8f6" stroke-width="0.9" />
<line x1="467.60" y1="343.90" x2="467.60" y2="349.30" stroke="#f2e8f6" stroke-width="0.9" />
<line x1="471.67" y1="343.90" x2="471.67" y2="349.30" stroke="#f2e8f6" stroke-width="0.9" />
<line x1="475.73" y1="343.90" x2="475.73" y2="349.30" stroke="#f2e8f6" stroke-width="0.9" />
<text x="373.40" y="356.20" font-size="6.8" text-anchor="middle" fill="#1a1a1a" stroke="#1a1a1a" >10min</text>
<text x="449.20" y="356.20" font-size="6.8" text-anchor="middle" fill="#1a1a1a" stroke="#1a1a1a" >10min</text>
<rect x="340.60" y="359.00" width="68.60" height="33.60" fill="#fff" stroke="#f0a0c4" stroke-width="1.2" />
<rect x="344.60" y="362.70" width="61.00" height="26.50" fill="none" stroke="#666" stroke-width="0.8" />
<line x1="340.60" y1="359.00" x2="344.60" y2="362.70" stroke="#666" stroke-width="0.6" />
<line x1="409.20" y1="359.00" x2="405.60" y2="362.70" stroke="#666" stroke-width="0.6" />
<line x1="340.60" y1="392.60" x2="344.60" y2="389.20" stroke="#666" stroke-width="0.6" />
<line x1="409.20" y1="392.60" x2="405.60" y2="389.20" stroke="#666" stroke-width="0.6" />
<line x1="374.60" y1="362.70" x2="374.60" y2="376.00" stroke="#888" stroke-width="0.7" />
<path d="M360.8,362.7 C363.0,364.7 363.2,367.7 360.5,370.7" fill="none" stroke="#333" stroke-width="0.6" />
<path d="M350.3,374.2 C351.8,371.7 352.8,369.7 355.8,369.2 M352.8,374.7 C353.8,372.7 354.8,371.2 357.3,371.2" fill="none" stroke="#aaa" stroke-width="0.5" />
<path d="M357.0,372.7 C357.8,370.9 361.8,370.5 363.3,372.2 C364.8,374.2 364.40000000000003,377.7 361.8,378.7 C358.8,379.5 356.6,377.7 356.6,375.7 C356.40000000000003,374.7 356.6,373.7 357.0,372.7 Z" fill="none" stroke="#444" stroke-width="0.55" />
<path d="M361.3,371.7 C362.8,373.2 362.8,375.2 361.6,376.2" fill="none" stroke="#666" stroke-width="0.45" />
<circle cx="359.50" cy="374.90" r="1.0" fill="#111" stroke="none" stroke-width="0"/>
<rect x="414.60" y="358.60" width="68.60" height="33.80" fill="#fff" stroke="#8282f2" stroke-width="1.2" />
<rect x="418.70" y="362.70" width="30.00" height="26.50" fill="#ececfa" stroke="none" stroke-width="1" />
<rect x="418.70" y="362.70" width="60.80" height="26.50" fill="none" stroke="#666" stroke-width="0.8" />
<line x1="414.60" y1="358.60" x2="418.70" y2="362.70" stroke="#666" stroke-width="0.6" />
<line x1="483.20" y1="358.60" x2="479.50" y2="362.70" stroke="#666" stroke-width="0.6" />
<line x1="414.60" y1="392.40" x2="418.70" y2="389.20" stroke="#666" stroke-width="0.6" />
<line x1="483.20" y1="392.40" x2="479.50" y2="389.20" stroke="#666" stroke-width="0.6" />
<line x1="448.70" y1="362.70" x2="448.70" y2="376.00" stroke="#888" stroke-width="0.7" />
<path d="M434.9,362.7 C437.09999999999997,364.7 437.29999999999995,367.7 434.59999999999997,370.7" fill="none" stroke="#5050d8" stroke-width="0.6" />
<path d="M424.4,374.2 C425.9,371.7 426.9,369.7 429.9,369.2 M426.9,374.7 C427.9,372.7 428.9,371.2 431.4,371.2" fill="none" stroke="#aaa" stroke-width="0.5" />
<path d="M431.09999999999997,372.7 C431.9,370.9 435.9,370.5 437.4,372.2 C438.9,374.2 438.5,377.7 435.9,378.7 C432.9,379.5 430.7,377.7 430.7,375.7 C430.5,374.7 430.7,373.7 431.09999999999997,372.7 Z" fill="none" stroke="#444" stroke-width="0.55" />
<path d="M435.4,371.7 C436.9,373.2 436.9,375.2 435.7,376.2" fill="none" stroke="#666" stroke-width="0.45" />
<circle cx="433.60" cy="374.90" r="1.0" fill="#1a1a40" stroke="none" stroke-width="0"/>
<text x="506.4" y="293.4" font-size="11" fill="#111" stroke="#111" style="stroke-width:0.2px">i</text>
<rect x="535.40" y="349.12" width="14.80" height="39.48" fill="#f6d2f4" stroke="#222" stroke-width="0.9" />
<rect x="559.70" y="354.81" width="15.60" height="33.79" fill="#c2c4f8" stroke="#222" stroke-width="0.9" />
<rect x="599.60" y="349.97" width="15.50" height="38.63" fill="#f6d2f4" stroke="#222" stroke-width="0.9" />
<rect x="623.30" y="379.00" width="15.60" height="9.60" fill="#c2c4f8" stroke="#222" stroke-width="0.9" />
<line x1="522.60" y1="311.80" x2="522.60" y2="388.60" stroke="#333" stroke-width="0.9" />
<line x1="522.60" y1="388.60" x2="651.40" y2="388.60" stroke="#333" stroke-width="0.9" />
<line x1="520.60" y1="388.60" x2="522.60" y2="388.60" stroke="#333" stroke-width="0.9" />
<text x="519.20" y="391.08" font-size="6.9" text-anchor="end" fill="#1a1a1a" stroke="#1a1a1a" >0</text>
<line x1="520.60" y1="373.24" x2="522.60" y2="373.24" stroke="#333" stroke-width="0.9" />
<text x="519.20" y="375.72" font-size="6.9" text-anchor="end" fill="#1a1a1a" stroke="#1a1a1a" >20</text>
<line x1="520.60" y1="357.88" x2="522.60" y2="357.88" stroke="#333" stroke-width="0.9" />
<text x="519.20" y="360.36" font-size="6.9" text-anchor="end" fill="#1a1a1a" stroke="#1a1a1a" >40</text>
<line x1="520.60" y1="342.52" x2="522.60" y2="342.52" stroke="#333" stroke-width="0.9" />
<text x="519.20" y="345.00" font-size="6.9" text-anchor="end" fill="#1a1a1a" stroke="#1a1a1a" >60</text>
<line x1="520.60" y1="327.16" x2="522.60" y2="327.16" stroke="#333" stroke-width="0.9" />
<text x="519.20" y="329.64" font-size="6.9" text-anchor="end" fill="#1a1a1a" stroke="#1a1a1a" >80</text>
<line x1="520.60" y1="311.80" x2="522.60" y2="311.80" stroke="#333" stroke-width="0.9" />
<text x="519.20" y="314.28" font-size="6.9" text-anchor="end" fill="#1a1a1a" stroke="#1a1a1a" >100</text>
<line x1="555.00" y1="388.60" x2="555.00" y2="390.60" stroke="#333" stroke-width="0.9" />
<line x1="619.30" y1="388.60" x2="619.30" y2="390.60" stroke="#333" stroke-width="0.9" />
<line x1="543.00" y1="347.13" x2="567.10" y2="347.13" stroke="#222" stroke-width="0.7" />
<line x1="543.00" y1="347.90" x2="567.10" y2="350.20" stroke="#222" stroke-width="0.7" />
<line x1="543.00" y1="348.66" x2="567.10" y2="352.50" stroke="#222" stroke-width="0.7" />
<line x1="543.00" y1="349.43" x2="567.10" y2="354.81" stroke="#222" stroke-width="0.7" />
<line x1="543.00" y1="350.20" x2="567.10" y2="357.11" stroke="#222" stroke-width="0.7" />
<line x1="543.00" y1="352.50" x2="567.10" y2="360.03" stroke="#222" stroke-width="0.7" />
<circle cx="543.00" cy="347.13" r="2.0" fill="#fff" stroke="#1a1a1a" stroke-width="0.8"/>
<circle cx="543.00" cy="347.90" r="2.0" fill="#fff" stroke="#1a1a1a" stroke-width="0.8"/>
<circle cx="543.00" cy="348.66" r="2.0" fill="#fff" stroke="#1a1a1a" stroke-width="0.8"/>
<circle cx="543.00" cy="349.43" r="2.0" fill="#fff" stroke="#1a1a1a" stroke-width="0.8"/>
<circle cx="543.00" cy="350.20" r="2.0" fill="#fff" stroke="#1a1a1a" stroke-width="0.8"/>
<circle cx="543.00" cy="352.50" r="2.0" fill="#fff" stroke="#1a1a1a" stroke-width="0.8"/>
<rect x="565.20" y="345.23" width="3.80" height="3.80" fill="#fff" stroke="#1a1a1a" stroke-width="0.8" />
<rect x="565.20" y="348.30" width="3.80" height="3.80" fill="#fff" stroke="#1a1a1a" stroke-width="0.8" />
<rect x="565.20" y="350.60" width="3.80" height="3.80" fill="#fff" stroke="#1a1a1a" stroke-width="0.8" />
<rect x="565.20" y="352.91" width="3.80" height="3.80" fill="#fff" stroke="#1a1a1a" stroke-width="0.8" />
<rect x="565.20" y="355.21" width="3.80" height="3.80" fill="#fff" stroke="#1a1a1a" stroke-width="0.8" />
<rect x="565.20" y="358.13" width="3.80" height="3.80" fill="#fff" stroke="#1a1a1a" stroke-width="0.8" />
<line x1="607.00" y1="344.06" x2="631.30" y2="370.17" stroke="#222" stroke-width="0.7" />
<line x1="607.00" y1="345.98" x2="631.30" y2="374.78" stroke="#222" stroke-width="0.7" />
<line x1="607.00" y1="348.66" x2="631.30" y2="377.85" stroke="#222" stroke-width="0.7" />
<line x1="607.00" y1="350.58" x2="631.30" y2="380.92" stroke="#222" stroke-width="0.7" />
<line x1="607.00" y1="353.43" x2="631.30" y2="382.07" stroke="#222" stroke-width="0.7" />
<line x1="607.00" y1="359.42" x2="631.30" y2="382.76" stroke="#222" stroke-width="0.7" />
<circle cx="607.00" cy="344.06" r="2.0" fill="#fff" stroke="#1a1a1a" stroke-width="0.8"/>
<circle cx="607.00" cy="345.98" r="2.0" fill="#fff" stroke="#1a1a1a" stroke-width="0.8"/>
<circle cx="607.00" cy="348.66" r="2.0" fill="#fff" stroke="#1a1a1a" stroke-width="0.8"/>
<circle cx="607.00" cy="350.58" r="2.0" fill="#fff" stroke="#1a1a1a" stroke-width="0.8"/>
<circle cx="607.00" cy="353.43" r="2.0" fill="#fff" stroke="#1a1a1a" stroke-width="0.8"/>
<circle cx="607.00" cy="359.42" r="2.0" fill="#fff" stroke="#1a1a1a" stroke-width="0.8"/>
<rect x="629.40" y="368.27" width="3.80" height="3.80" fill="#fff" stroke="#1a1a1a" stroke-width="0.8" />
<rect x="629.40" y="372.88" width="3.80" height="3.80" fill="#fff" stroke="#1a1a1a" stroke-width="0.8" />
<rect x="629.40" y="375.95" width="3.80" height="3.80" fill="#fff" stroke="#1a1a1a" stroke-width="0.8" />
<rect x="629.40" y="379.02" width="3.80" height="3.80" fill="#fff" stroke="#1a1a1a" stroke-width="0.8" />
<rect x="629.40" y="380.17" width="3.80" height="3.80" fill="#fff" stroke="#1a1a1a" stroke-width="0.8" />
<rect x="629.40" y="380.86" width="3.80" height="3.80" fill="#fff" stroke="#1a1a1a" stroke-width="0.8" />
<text x="555.00" y="399.00" font-size="8.8" text-anchor="middle" fill="#1a1a1a" stroke="#1a1a1a" >eYFP</text>
<text x="618.80" y="399.00" font-size="8.8" text-anchor="middle" fill="#1a1a1a" stroke="#1a1a1a" >ChR2</text>
<text transform="translate(506.2,351.9) rotate(-90)" font-size="8.3" text-anchor="middle" fill="#1a1a1a">Time in ROI (%)</text>
<line x1="532.50" y1="301.00" x2="540.30" y2="301.00" stroke="#222" stroke-width="0.8" />
<circle cx="536.40" cy="301.00" r="2.0" fill="#fff" stroke="#1a1a1a" stroke-width="0.8"/>
<text x="546.00" y="303.74" font-size="7.6" text-anchor="start" fill="#1a1a1a" stroke="#1a1a1a" >light off</text>
<line x1="532.50" y1="312.00" x2="540.30" y2="312.00" stroke="#222" stroke-width="0.8" />
<rect x="534.60" y="310.20" width="3.60" height="3.60" fill="#fff" stroke="#1a1a1a" stroke-width="0.8" />
<text x="546.00" y="314.74" font-size="7.6" text-anchor="start" fill="#1a1a1a" stroke="#1a1a1a" >light on</text>
<text x="542.00" y="336.20" font-size="6.8" text-anchor="start" fill="#1a1a1a" stroke="#1a1a1a" ><tspan font-style="italic">p</tspan>=0.0682</text>
<line x1="545.00" y1="338.60" x2="568.00" y2="338.60" stroke="#444" stroke-width="1.0" />
<text x="619.60" y="337.80" font-size="8.4" text-anchor="middle" fill="#1a1a1a" stroke="#1a1a1a" >****</text>
<line x1="607.00" y1="337.20" x2="630.00" y2="337.20" stroke="#444" stroke-width="1.0" />
<text x="628.00" y="335.40" font-size="6.8" text-anchor="start" fill="#1a1a1a" stroke="#1a1a1a" ><tspan font-style="italic">p</tspan>=3.90249E-06</text>
</svg></body></html>
